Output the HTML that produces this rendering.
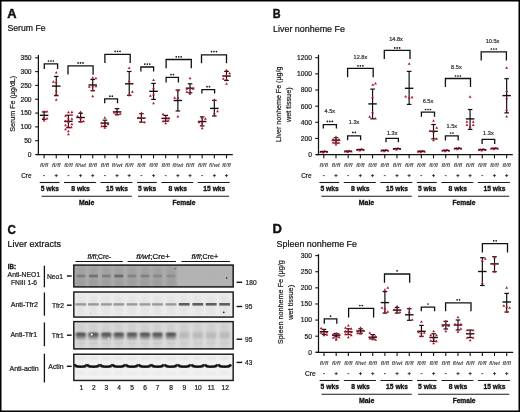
<!DOCTYPE html>
<html><head><meta charset="utf-8"><title>Figure</title>
<style>html,body{margin:0;padding:0;background:#fff;width:520px;height:412px;overflow:hidden}
svg text{font-family:"Liberation Sans",sans-serif}</style></head>
<body>
<svg width="520" height="412" viewBox="0 0 520 412" style="position:absolute;left:0;top:0;will-change:transform">
<g font-family='"Liberation Sans", sans-serif' fill="#111">
<rect x="0" y="0" width="520" height="412" fill="#fff"/>
<text x="7.30" y="17.90" font-size="12.6" stroke="#111" stroke-width="0.45" font-weight="bold" textLength="9.30" lengthAdjust="spacingAndGlyphs">A</text>
<text x="7.50" y="31.40" font-size="9.2" stroke="#111" stroke-width="0.22" textLength="38.00" lengthAdjust="spacingAndGlyphs">Serum Fe</text>
<line x1="38.40" y1="54.90" x2="38.40" y2="155.10" stroke="#111" stroke-width="1.25"/>
<line x1="35.20" y1="154.50" x2="38.40" y2="154.50" stroke="#111" stroke-width="1.1"/>
<text x="31.60" y="156.90" font-size="6.7" stroke="#222" stroke-width="0.22" text-anchor="end" fill="#222">0</text>
<line x1="35.20" y1="140.69" x2="38.40" y2="140.69" stroke="#111" stroke-width="1.1"/>
<text x="31.60" y="143.09" font-size="6.7" stroke="#222" stroke-width="0.22" text-anchor="end" fill="#222">50</text>
<line x1="35.20" y1="126.87" x2="38.40" y2="126.87" stroke="#111" stroke-width="1.1"/>
<text x="31.60" y="129.27" font-size="6.7" stroke="#222" stroke-width="0.22" text-anchor="end" fill="#222">100</text>
<line x1="35.20" y1="113.06" x2="38.40" y2="113.06" stroke="#111" stroke-width="1.1"/>
<text x="31.60" y="115.46" font-size="6.7" stroke="#222" stroke-width="0.22" text-anchor="end" fill="#222">150</text>
<line x1="35.20" y1="99.24" x2="38.40" y2="99.24" stroke="#111" stroke-width="1.1"/>
<text x="31.60" y="101.64" font-size="6.7" stroke="#222" stroke-width="0.22" text-anchor="end" fill="#222">200</text>
<line x1="35.20" y1="85.42" x2="38.40" y2="85.42" stroke="#111" stroke-width="1.1"/>
<text x="31.60" y="87.83" font-size="6.7" stroke="#222" stroke-width="0.22" text-anchor="end" fill="#222">250</text>
<line x1="35.20" y1="71.61" x2="38.40" y2="71.61" stroke="#111" stroke-width="1.1"/>
<text x="31.60" y="74.01" font-size="6.7" stroke="#222" stroke-width="0.22" text-anchor="end" fill="#222">300</text>
<line x1="35.20" y1="57.80" x2="38.40" y2="57.80" stroke="#111" stroke-width="1.1"/>
<text x="31.60" y="60.20" font-size="6.7" stroke="#222" stroke-width="0.22" text-anchor="end" fill="#222">350</text>
<line x1="36.00" y1="154.70" x2="232.80" y2="154.70" stroke="#111" stroke-width="1.3"/>
<line x1="44.10" y1="154.70" x2="44.10" y2="158.30" stroke="#111" stroke-width="1.1"/>
<line x1="56.26" y1="154.70" x2="56.26" y2="158.30" stroke="#111" stroke-width="1.1"/>
<line x1="68.42" y1="154.70" x2="68.42" y2="158.30" stroke="#111" stroke-width="1.1"/>
<line x1="80.58" y1="154.70" x2="80.58" y2="158.30" stroke="#111" stroke-width="1.1"/>
<line x1="92.74" y1="154.70" x2="92.74" y2="158.30" stroke="#111" stroke-width="1.1"/>
<line x1="104.90" y1="154.70" x2="104.90" y2="158.30" stroke="#111" stroke-width="1.1"/>
<line x1="117.06" y1="154.70" x2="117.06" y2="158.30" stroke="#111" stroke-width="1.1"/>
<line x1="129.22" y1="154.70" x2="129.22" y2="158.30" stroke="#111" stroke-width="1.1"/>
<line x1="141.38" y1="154.70" x2="141.38" y2="158.30" stroke="#111" stroke-width="1.1"/>
<line x1="153.54" y1="154.70" x2="153.54" y2="158.30" stroke="#111" stroke-width="1.1"/>
<line x1="165.70" y1="154.70" x2="165.70" y2="158.30" stroke="#111" stroke-width="1.1"/>
<line x1="177.86" y1="154.70" x2="177.86" y2="158.30" stroke="#111" stroke-width="1.1"/>
<line x1="190.02" y1="154.70" x2="190.02" y2="158.30" stroke="#111" stroke-width="1.1"/>
<line x1="202.18" y1="154.70" x2="202.18" y2="158.30" stroke="#111" stroke-width="1.1"/>
<line x1="214.34" y1="154.70" x2="214.34" y2="158.30" stroke="#111" stroke-width="1.1"/>
<line x1="226.50" y1="154.70" x2="226.50" y2="158.30" stroke="#111" stroke-width="1.1"/>
<text x="15.50" y="131.80" font-size="7.7" stroke="#222" stroke-width="0.22" fill="#222" textLength="56.00" lengthAdjust="spacingAndGlyphs" transform="rotate(-90 15.50 131.80)">Serum Fe (µg/dL)</text>
<text x="21.20" y="177.90" font-size="6.4" stroke="#222" stroke-width="0.22" fill="#222" textLength="10.30" lengthAdjust="spacingAndGlyphs">Cre</text>
<text x="44.10" y="166.50" font-size="4.8" stroke="#444" stroke-width="0.1" text-anchor="middle" font-style="italic" fill="#444" textLength="8.40" lengthAdjust="spacingAndGlyphs">fl/fl</text>
<line x1="43.20" y1="175.60" x2="45.00" y2="175.60" stroke="#222" stroke-width="0.8"/>
<text x="56.26" y="166.50" font-size="4.8" stroke="#444" stroke-width="0.1" text-anchor="middle" font-style="italic" fill="#444" textLength="8.40" lengthAdjust="spacingAndGlyphs">fl/fl</text>
<line x1="54.66" y1="175.60" x2="57.86" y2="175.60" stroke="#222" stroke-width="0.8"/>
<line x1="56.26" y1="174.00" x2="56.26" y2="177.20" stroke="#222" stroke-width="0.8"/>
<text x="68.42" y="166.50" font-size="4.8" stroke="#444" stroke-width="0.1" text-anchor="middle" font-style="italic" fill="#444" textLength="8.40" lengthAdjust="spacingAndGlyphs">fl/fl</text>
<line x1="67.52" y1="175.60" x2="69.32" y2="175.60" stroke="#222" stroke-width="0.8"/>
<text x="80.58" y="166.50" font-size="4.8" stroke="#444" stroke-width="0.1" text-anchor="middle" font-style="italic" fill="#444" textLength="10.60" lengthAdjust="spacingAndGlyphs">fl/wt</text>
<line x1="78.98" y1="175.60" x2="82.18" y2="175.60" stroke="#222" stroke-width="0.8"/>
<line x1="80.58" y1="174.00" x2="80.58" y2="177.20" stroke="#222" stroke-width="0.8"/>
<text x="92.74" y="166.50" font-size="4.8" stroke="#444" stroke-width="0.1" text-anchor="middle" font-style="italic" fill="#444" textLength="8.40" lengthAdjust="spacingAndGlyphs">fl/fl</text>
<line x1="91.14" y1="175.60" x2="94.34" y2="175.60" stroke="#222" stroke-width="0.8"/>
<line x1="92.74" y1="174.00" x2="92.74" y2="177.20" stroke="#222" stroke-width="0.8"/>
<text x="104.90" y="166.50" font-size="4.8" stroke="#444" stroke-width="0.1" text-anchor="middle" font-style="italic" fill="#444" textLength="8.40" lengthAdjust="spacingAndGlyphs">fl/fl</text>
<line x1="104.00" y1="175.60" x2="105.80" y2="175.60" stroke="#222" stroke-width="0.8"/>
<text x="117.06" y="166.50" font-size="4.8" stroke="#444" stroke-width="0.1" text-anchor="middle" font-style="italic" fill="#444" textLength="10.60" lengthAdjust="spacingAndGlyphs">fl/wt</text>
<line x1="115.46" y1="175.60" x2="118.66" y2="175.60" stroke="#222" stroke-width="0.8"/>
<line x1="117.06" y1="174.00" x2="117.06" y2="177.20" stroke="#222" stroke-width="0.8"/>
<text x="129.22" y="166.50" font-size="4.8" stroke="#444" stroke-width="0.1" text-anchor="middle" font-style="italic" fill="#444" textLength="8.40" lengthAdjust="spacingAndGlyphs">fl/fl</text>
<line x1="127.62" y1="175.60" x2="130.82" y2="175.60" stroke="#222" stroke-width="0.8"/>
<line x1="129.22" y1="174.00" x2="129.22" y2="177.20" stroke="#222" stroke-width="0.8"/>
<text x="141.38" y="166.50" font-size="4.8" stroke="#444" stroke-width="0.1" text-anchor="middle" font-style="italic" fill="#444" textLength="8.40" lengthAdjust="spacingAndGlyphs">fl/fl</text>
<line x1="140.48" y1="175.60" x2="142.28" y2="175.60" stroke="#222" stroke-width="0.8"/>
<text x="153.54" y="166.50" font-size="4.8" stroke="#444" stroke-width="0.1" text-anchor="middle" font-style="italic" fill="#444" textLength="8.40" lengthAdjust="spacingAndGlyphs">fl/fl</text>
<line x1="151.94" y1="175.60" x2="155.14" y2="175.60" stroke="#222" stroke-width="0.8"/>
<line x1="153.54" y1="174.00" x2="153.54" y2="177.20" stroke="#222" stroke-width="0.8"/>
<text x="165.70" y="166.50" font-size="4.8" stroke="#444" stroke-width="0.1" text-anchor="middle" font-style="italic" fill="#444" textLength="8.40" lengthAdjust="spacingAndGlyphs">fl/fl</text>
<line x1="164.80" y1="175.60" x2="166.60" y2="175.60" stroke="#222" stroke-width="0.8"/>
<text x="177.86" y="166.50" font-size="4.8" stroke="#444" stroke-width="0.1" text-anchor="middle" font-style="italic" fill="#444" textLength="10.60" lengthAdjust="spacingAndGlyphs">fl/wt</text>
<line x1="176.26" y1="175.60" x2="179.46" y2="175.60" stroke="#222" stroke-width="0.8"/>
<line x1="177.86" y1="174.00" x2="177.86" y2="177.20" stroke="#222" stroke-width="0.8"/>
<text x="190.02" y="166.50" font-size="4.8" stroke="#444" stroke-width="0.1" text-anchor="middle" font-style="italic" fill="#444" textLength="8.40" lengthAdjust="spacingAndGlyphs">fl/fl</text>
<line x1="188.42" y1="175.60" x2="191.62" y2="175.60" stroke="#222" stroke-width="0.8"/>
<line x1="190.02" y1="174.00" x2="190.02" y2="177.20" stroke="#222" stroke-width="0.8"/>
<text x="202.18" y="166.50" font-size="4.8" stroke="#444" stroke-width="0.1" text-anchor="middle" font-style="italic" fill="#444" textLength="8.40" lengthAdjust="spacingAndGlyphs">fl/fl</text>
<line x1="201.28" y1="175.60" x2="203.08" y2="175.60" stroke="#222" stroke-width="0.8"/>
<text x="214.34" y="166.50" font-size="4.8" stroke="#444" stroke-width="0.1" text-anchor="middle" font-style="italic" fill="#444" textLength="10.60" lengthAdjust="spacingAndGlyphs">fl/wt</text>
<line x1="212.74" y1="175.60" x2="215.94" y2="175.60" stroke="#222" stroke-width="0.8"/>
<line x1="214.34" y1="174.00" x2="214.34" y2="177.20" stroke="#222" stroke-width="0.8"/>
<text x="226.50" y="166.50" font-size="4.8" stroke="#444" stroke-width="0.1" text-anchor="middle" font-style="italic" fill="#444" textLength="8.40" lengthAdjust="spacingAndGlyphs">fl/fl</text>
<line x1="224.90" y1="175.60" x2="228.10" y2="175.60" stroke="#222" stroke-width="0.8"/>
<line x1="226.50" y1="174.00" x2="226.50" y2="177.20" stroke="#222" stroke-width="0.8"/>
<line x1="39.70" y1="182.50" x2="59.46" y2="182.50" stroke="#1a1a1a" stroke-width="1.1"/>
<text x="49.88" y="191.40" font-size="6.6" stroke="#111" stroke-width="0.3" text-anchor="middle" font-weight="bold" textLength="18.30" lengthAdjust="spacingAndGlyphs">5 wks</text>
<line x1="64.02" y1="182.50" x2="95.94" y2="182.50" stroke="#1a1a1a" stroke-width="1.1"/>
<text x="80.58" y="191.40" font-size="6.6" stroke="#111" stroke-width="0.3" text-anchor="middle" font-weight="bold" textLength="18.60" lengthAdjust="spacingAndGlyphs">8 wks</text>
<line x1="100.50" y1="182.50" x2="132.42" y2="182.50" stroke="#1a1a1a" stroke-width="1.1"/>
<text x="117.06" y="191.40" font-size="6.6" stroke="#111" stroke-width="0.3" text-anchor="middle" font-weight="bold" textLength="21.90" lengthAdjust="spacingAndGlyphs">15 wks</text>
<line x1="136.98" y1="182.50" x2="156.74" y2="182.50" stroke="#1a1a1a" stroke-width="1.1"/>
<text x="147.16" y="191.40" font-size="6.6" stroke="#111" stroke-width="0.3" text-anchor="middle" font-weight="bold" textLength="18.30" lengthAdjust="spacingAndGlyphs">5 wks</text>
<line x1="161.30" y1="182.50" x2="193.22" y2="182.50" stroke="#1a1a1a" stroke-width="1.1"/>
<text x="177.86" y="191.40" font-size="6.6" stroke="#111" stroke-width="0.3" text-anchor="middle" font-weight="bold" textLength="18.60" lengthAdjust="spacingAndGlyphs">8 wks</text>
<line x1="197.78" y1="182.50" x2="229.70" y2="182.50" stroke="#1a1a1a" stroke-width="1.1"/>
<text x="214.34" y="191.40" font-size="6.6" stroke="#111" stroke-width="0.3" text-anchor="middle" font-weight="bold" textLength="21.90" lengthAdjust="spacingAndGlyphs">15 wks</text>
<line x1="41.60" y1="196.30" x2="131.82" y2="196.30" stroke="#1a1a1a" stroke-width="1.1"/>
<line x1="137.98" y1="196.30" x2="229.10" y2="196.30" stroke="#1a1a1a" stroke-width="1.1"/>
<text x="86.66" y="205.10" font-size="6.5" stroke="#111" stroke-width="0.3" text-anchor="middle" font-weight="bold" textLength="15.40" lengthAdjust="spacingAndGlyphs">Male</text>
<text x="183.94" y="205.10" font-size="6.5" stroke="#111" stroke-width="0.3" text-anchor="middle" font-weight="bold" textLength="22.80" lengthAdjust="spacingAndGlyphs">Female</text>
<line x1="44.10" y1="111.90" x2="44.10" y2="119.30" stroke="#111" stroke-width="1.2"/>
<line x1="41.80" y1="111.90" x2="46.40" y2="111.90" stroke="#111" stroke-width="1.2"/>
<line x1="41.80" y1="119.30" x2="46.40" y2="119.30" stroke="#111" stroke-width="1.2"/>
<line x1="39.85" y1="115.30" x2="48.35" y2="115.30" stroke="#111" stroke-width="1.4"/>
<path d="M42.65 112.53L44.10 110.07L45.55 112.53Z" fill="#bd0f2c"/>
<path d="M45.55 112.53L47.00 110.07L48.45 112.53Z" fill="#bd0f2c"/>
<path d="M42.07 119.03L43.52 116.57L44.97 119.03Z" fill="#bd0f2c"/>
<path d="M45.55 119.53L47.00 117.07L48.45 119.53Z" fill="#bd0f2c"/>
<path d="M42.65 121.53L44.10 119.07L45.55 121.53Z" fill="#bd0f2c"/>
<line x1="56.26" y1="76.40" x2="56.26" y2="95.70" stroke="#111" stroke-width="1.2"/>
<line x1="53.96" y1="76.40" x2="58.56" y2="76.40" stroke="#111" stroke-width="1.2"/>
<line x1="53.96" y1="95.70" x2="58.56" y2="95.70" stroke="#111" stroke-width="1.2"/>
<line x1="52.01" y1="86.10" x2="60.51" y2="86.10" stroke="#111" stroke-width="1.4"/>
<path d="M54.81 73.53L56.26 71.07L57.71 73.53Z" fill="#bd0f2c"/>
<path d="M51.91 82.73L53.36 80.27L54.81 82.73Z" fill="#bd0f2c"/>
<path d="M54.81 83.23L56.26 80.77L57.71 83.23Z" fill="#bd0f2c"/>
<path d="M54.81 91.73L56.26 89.27L57.71 91.73Z" fill="#bd0f2c"/>
<path d="M54.81 94.73L56.26 92.27L57.71 94.73Z" fill="#bd0f2c"/>
<path d="M54.81 100.73L56.26 98.27L57.71 100.73Z" fill="#bd0f2c"/>
<line x1="68.42" y1="115.20" x2="68.42" y2="127.70" stroke="#111" stroke-width="1.2"/>
<line x1="66.12" y1="115.20" x2="70.72" y2="115.20" stroke="#111" stroke-width="1.2"/>
<line x1="66.12" y1="127.70" x2="70.72" y2="127.70" stroke="#111" stroke-width="1.2"/>
<line x1="64.17" y1="121.30" x2="72.67" y2="121.30" stroke="#111" stroke-width="1.4"/>
<path d="M66.97 113.33L68.42 110.87L69.87 113.33Z" fill="#bd0f2c"/>
<path d="M70.45 113.03L71.90 110.57L73.35 113.03Z" fill="#bd0f2c"/>
<path d="M70.45 115.73L71.90 113.27L73.35 115.73Z" fill="#bd0f2c"/>
<path d="M64.07 116.73L65.52 114.27L66.97 116.73Z" fill="#bd0f2c"/>
<path d="M66.97 119.23L68.42 116.77L69.87 119.23Z" fill="#bd0f2c"/>
<path d="M70.45 119.73L71.90 117.27L73.35 119.73Z" fill="#bd0f2c"/>
<path d="M64.07 122.23L65.52 119.77L66.97 122.23Z" fill="#bd0f2c"/>
<path d="M66.97 122.73L68.42 120.27L69.87 122.73Z" fill="#bd0f2c"/>
<path d="M70.45 125.23L71.90 122.77L73.35 125.23Z" fill="#bd0f2c"/>
<path d="M64.07 126.23L65.52 123.77L66.97 126.23Z" fill="#bd0f2c"/>
<path d="M66.97 127.23L68.42 124.77L69.87 127.23Z" fill="#bd0f2c"/>
<path d="M69.87 128.23L71.32 125.77L72.77 128.23Z" fill="#bd0f2c"/>
<path d="M64.07 130.23L65.52 127.77L66.97 130.23Z" fill="#bd0f2c"/>
<path d="M66.97 132.23L68.42 129.77L69.87 132.23Z" fill="#bd0f2c"/>
<path d="M66.97 135.23L68.42 132.77L69.87 135.23Z" fill="#bd0f2c"/>
<line x1="80.58" y1="113.30" x2="80.58" y2="121.70" stroke="#111" stroke-width="1.2"/>
<line x1="78.28" y1="113.30" x2="82.88" y2="113.30" stroke="#111" stroke-width="1.2"/>
<line x1="78.28" y1="121.70" x2="82.88" y2="121.70" stroke="#111" stroke-width="1.2"/>
<line x1="76.33" y1="117.50" x2="84.83" y2="117.50" stroke="#111" stroke-width="1.4"/>
<path d="M79.13 113.03L80.58 110.57L82.03 113.03Z" fill="#bd0f2c"/>
<path d="M76.23 117.23L77.68 114.77L79.13 117.23Z" fill="#bd0f2c"/>
<path d="M79.13 119.23L80.58 116.77L82.03 119.23Z" fill="#bd0f2c"/>
<path d="M79.13 122.73L80.58 120.27L82.03 122.73Z" fill="#bd0f2c"/>
<path d="M82.03 122.23L83.48 119.77L84.93 122.23Z" fill="#bd0f2c"/>
<line x1="92.74" y1="79.50" x2="92.74" y2="90.70" stroke="#111" stroke-width="1.2"/>
<line x1="90.44" y1="79.50" x2="95.04" y2="79.50" stroke="#111" stroke-width="1.2"/>
<line x1="90.44" y1="90.70" x2="95.04" y2="90.70" stroke="#111" stroke-width="1.2"/>
<line x1="88.49" y1="85.00" x2="96.99" y2="85.00" stroke="#111" stroke-width="1.4"/>
<path d="M91.29 78.73L92.74 76.27L94.19 78.73Z" fill="#bd0f2c"/>
<path d="M94.48 79.23L95.93 76.77L97.38 79.23Z" fill="#bd0f2c"/>
<path d="M87.81 87.73L89.26 85.27L90.71 87.73Z" fill="#bd0f2c"/>
<path d="M91.29 87.23L92.74 84.77L94.19 87.23Z" fill="#bd0f2c"/>
<path d="M94.48 87.23L95.93 84.77L97.38 87.23Z" fill="#bd0f2c"/>
<path d="M91.29 91.23L92.74 88.77L94.19 91.23Z" fill="#bd0f2c"/>
<path d="M91.29 97.23L92.74 94.77L94.19 97.23Z" fill="#bd0f2c"/>
<line x1="104.90" y1="120.20" x2="104.90" y2="126.50" stroke="#111" stroke-width="1.2"/>
<line x1="102.60" y1="120.20" x2="107.20" y2="120.20" stroke="#111" stroke-width="1.2"/>
<line x1="102.60" y1="126.50" x2="107.20" y2="126.50" stroke="#111" stroke-width="1.2"/>
<line x1="100.65" y1="123.10" x2="109.15" y2="123.10" stroke="#111" stroke-width="1.4"/>
<path d="M103.45 118.73L104.90 116.27L106.35 118.73Z" fill="#bd0f2c"/>
<path d="M100.26 124.23L101.71 121.77L103.16 124.23Z" fill="#bd0f2c"/>
<path d="M103.45 125.73L104.90 123.27L106.35 125.73Z" fill="#bd0f2c"/>
<path d="M106.64 125.23L108.09 122.77L109.54 125.23Z" fill="#bd0f2c"/>
<path d="M100.26 127.23L101.71 124.77L103.16 127.23Z" fill="#bd0f2c"/>
<path d="M103.45 128.73L104.90 126.27L106.35 128.73Z" fill="#bd0f2c"/>
<line x1="117.06" y1="108.60" x2="117.06" y2="114.80" stroke="#111" stroke-width="1.2"/>
<line x1="114.76" y1="108.60" x2="119.36" y2="108.60" stroke="#111" stroke-width="1.2"/>
<line x1="114.76" y1="114.80" x2="119.36" y2="114.80" stroke="#111" stroke-width="1.2"/>
<line x1="112.81" y1="111.90" x2="121.31" y2="111.90" stroke="#111" stroke-width="1.4"/>
<path d="M115.61 109.83L117.06 107.37L118.51 109.83Z" fill="#bd0f2c"/>
<path d="M118.80 114.73L120.25 112.27L121.70 114.73Z" fill="#bd0f2c"/>
<path d="M115.61 115.23L117.06 112.77L118.51 115.23Z" fill="#bd0f2c"/>
<path d="M113.00 113.43L114.45 110.97L115.90 113.43Z" fill="#bd0f2c"/>
<line x1="129.22" y1="71.50" x2="129.22" y2="95.30" stroke="#111" stroke-width="1.2"/>
<line x1="126.92" y1="71.50" x2="131.52" y2="71.50" stroke="#111" stroke-width="1.2"/>
<line x1="126.92" y1="95.30" x2="131.52" y2="95.30" stroke="#111" stroke-width="1.2"/>
<line x1="124.97" y1="83.80" x2="133.47" y2="83.80" stroke="#111" stroke-width="1.4"/>
<path d="M127.77 69.03L129.22 66.57L130.67 69.03Z" fill="#bd0f2c"/>
<path d="M127.77 82.23L129.22 79.77L130.67 82.23Z" fill="#bd0f2c"/>
<path d="M130.96 92.73L132.41 90.27L133.86 92.73Z" fill="#bd0f2c"/>
<path d="M127.77 96.23L129.22 93.77L130.67 96.23Z" fill="#bd0f2c"/>
<line x1="141.38" y1="113.70" x2="141.38" y2="122.10" stroke="#111" stroke-width="1.2"/>
<line x1="139.08" y1="113.70" x2="143.68" y2="113.70" stroke="#111" stroke-width="1.2"/>
<line x1="139.08" y1="122.10" x2="143.68" y2="122.10" stroke="#111" stroke-width="1.2"/>
<line x1="137.13" y1="118.10" x2="145.63" y2="118.10" stroke="#111" stroke-width="1.4"/>
<path d="M139.93 114.03L141.38 111.57L142.83 114.03Z" fill="#bd0f2c"/>
<path d="M136.74 118.73L138.19 116.27L139.64 118.73Z" fill="#bd0f2c"/>
<path d="M139.93 118.23L141.38 115.77L142.83 118.23Z" fill="#bd0f2c"/>
<path d="M139.93 122.73L141.38 120.27L142.83 122.73Z" fill="#bd0f2c"/>
<path d="M143.12 123.23L144.57 120.77L146.02 123.23Z" fill="#bd0f2c"/>
<line x1="153.54" y1="83.40" x2="153.54" y2="99.40" stroke="#111" stroke-width="1.2"/>
<line x1="151.24" y1="83.40" x2="155.84" y2="83.40" stroke="#111" stroke-width="1.2"/>
<line x1="151.24" y1="99.40" x2="155.84" y2="99.40" stroke="#111" stroke-width="1.2"/>
<line x1="149.29" y1="91.30" x2="157.79" y2="91.30" stroke="#111" stroke-width="1.4"/>
<path d="M152.09 81.03L153.54 78.57L154.99 81.03Z" fill="#bd0f2c"/>
<path d="M152.09 89.23L153.54 86.77L154.99 89.23Z" fill="#bd0f2c"/>
<path d="M148.90 96.73L150.35 94.27L151.80 96.73Z" fill="#bd0f2c"/>
<path d="M152.09 95.53L153.54 93.07L154.99 95.53Z" fill="#bd0f2c"/>
<path d="M152.09 104.23L153.54 101.77L154.99 104.23Z" fill="#bd0f2c"/>
<line x1="165.70" y1="115.40" x2="165.70" y2="121.20" stroke="#111" stroke-width="1.2"/>
<line x1="163.40" y1="115.40" x2="168.00" y2="115.40" stroke="#111" stroke-width="1.2"/>
<line x1="163.40" y1="121.20" x2="168.00" y2="121.20" stroke="#111" stroke-width="1.2"/>
<line x1="161.45" y1="118.40" x2="169.95" y2="118.40" stroke="#111" stroke-width="1.4"/>
<path d="M161.64 115.23L163.09 112.77L164.54 115.23Z" fill="#bd0f2c"/>
<path d="M164.25 118.23L165.70 115.77L167.15 118.23Z" fill="#bd0f2c"/>
<path d="M166.86 119.23L168.31 116.77L169.76 119.23Z" fill="#bd0f2c"/>
<path d="M161.64 122.23L163.09 119.77L164.54 122.23Z" fill="#bd0f2c"/>
<path d="M166.86 121.73L168.31 119.27L169.76 121.73Z" fill="#bd0f2c"/>
<path d="M164.25 124.23L165.70 121.77L167.15 124.23Z" fill="#bd0f2c"/>
<line x1="177.86" y1="90.00" x2="177.86" y2="111.00" stroke="#111" stroke-width="1.2"/>
<line x1="175.56" y1="90.00" x2="180.16" y2="90.00" stroke="#111" stroke-width="1.2"/>
<line x1="175.56" y1="111.00" x2="180.16" y2="111.00" stroke="#111" stroke-width="1.2"/>
<line x1="173.61" y1="100.50" x2="182.11" y2="100.50" stroke="#111" stroke-width="1.4"/>
<path d="M176.41 91.73L177.86 89.27L179.31 91.73Z" fill="#bd0f2c"/>
<path d="M173.22 98.73L174.67 96.27L176.12 98.73Z" fill="#bd0f2c"/>
<path d="M176.41 98.73L177.86 96.27L179.31 98.73Z" fill="#bd0f2c"/>
<path d="M176.41 117.43L177.86 114.97L179.31 117.43Z" fill="#bd0f2c"/>
<line x1="190.02" y1="83.80" x2="190.02" y2="92.80" stroke="#111" stroke-width="1.2"/>
<line x1="187.72" y1="83.80" x2="192.32" y2="83.80" stroke="#111" stroke-width="1.2"/>
<line x1="187.72" y1="92.80" x2="192.32" y2="92.80" stroke="#111" stroke-width="1.2"/>
<line x1="185.77" y1="88.20" x2="194.27" y2="88.20" stroke="#111" stroke-width="1.4"/>
<path d="M188.57 79.23L190.02 76.77L191.47 79.23Z" fill="#bd0f2c"/>
<path d="M185.38 89.73L186.83 87.27L188.28 89.73Z" fill="#bd0f2c"/>
<path d="M188.57 89.23L190.02 86.77L191.47 89.23Z" fill="#bd0f2c"/>
<path d="M191.76 89.73L193.21 87.27L194.66 89.73Z" fill="#bd0f2c"/>
<path d="M185.38 92.73L186.83 90.27L188.28 92.73Z" fill="#bd0f2c"/>
<path d="M188.57 94.73L190.02 92.27L191.47 94.73Z" fill="#bd0f2c"/>
<line x1="202.18" y1="116.90" x2="202.18" y2="125.90" stroke="#111" stroke-width="1.2"/>
<line x1="199.88" y1="116.90" x2="204.48" y2="116.90" stroke="#111" stroke-width="1.2"/>
<line x1="199.88" y1="125.90" x2="204.48" y2="125.90" stroke="#111" stroke-width="1.2"/>
<line x1="197.93" y1="121.50" x2="206.43" y2="121.50" stroke="#111" stroke-width="1.4"/>
<path d="M200.73 118.73L202.18 116.27L203.63 118.73Z" fill="#bd0f2c"/>
<path d="M203.92 119.73L205.37 117.27L206.82 119.73Z" fill="#bd0f2c"/>
<path d="M200.73 123.23L202.18 120.77L203.63 123.23Z" fill="#bd0f2c"/>
<path d="M197.54 123.23L198.99 120.77L200.44 123.23Z" fill="#bd0f2c"/>
<path d="M200.73 126.23L202.18 123.77L203.63 126.23Z" fill="#bd0f2c"/>
<path d="M200.73 129.23L202.18 126.77L203.63 129.23Z" fill="#bd0f2c"/>
<line x1="214.34" y1="100.40" x2="214.34" y2="116.00" stroke="#111" stroke-width="1.2"/>
<line x1="212.04" y1="100.40" x2="216.64" y2="100.40" stroke="#111" stroke-width="1.2"/>
<line x1="212.04" y1="116.00" x2="216.64" y2="116.00" stroke="#111" stroke-width="1.2"/>
<line x1="210.09" y1="108.40" x2="218.59" y2="108.40" stroke="#111" stroke-width="1.4"/>
<path d="M212.89 100.73L214.34 98.27L215.79 100.73Z" fill="#bd0f2c"/>
<path d="M216.08 112.23L217.53 109.77L218.98 112.23Z" fill="#bd0f2c"/>
<path d="M212.89 114.23L214.34 111.77L215.79 114.23Z" fill="#bd0f2c"/>
<line x1="226.50" y1="71.40" x2="226.50" y2="80.50" stroke="#111" stroke-width="1.2"/>
<line x1="224.20" y1="71.40" x2="228.80" y2="71.40" stroke="#111" stroke-width="1.2"/>
<line x1="224.20" y1="80.50" x2="228.80" y2="80.50" stroke="#111" stroke-width="1.2"/>
<line x1="222.25" y1="76.00" x2="230.75" y2="76.00" stroke="#111" stroke-width="1.4"/>
<path d="M225.05 71.23L226.50 68.77L227.95 71.23Z" fill="#bd0f2c"/>
<path d="M228.24 74.23L229.69 71.77L231.14 74.23Z" fill="#bd0f2c"/>
<path d="M225.05 76.23L226.50 73.77L227.95 76.23Z" fill="#bd0f2c"/>
<path d="M221.86 79.73L223.31 77.27L224.76 79.73Z" fill="#bd0f2c"/>
<path d="M225.05 80.23L226.50 77.77L227.95 80.23Z" fill="#bd0f2c"/>
<path d="M225.05 84.73L226.50 82.27L227.95 84.73Z" fill="#bd0f2c"/>
<path d="M44.30 69.00V63.90H57.60V69.00" fill="none" stroke="#111" stroke-width="1.3"/>
<circle cx="48.50" cy="61.00" r="0.85" fill="#111"/>
<circle cx="50.95" cy="61.00" r="0.85" fill="#111"/>
<circle cx="53.40" cy="61.00" r="0.85" fill="#111"/>
<path d="M68.00 74.60V65.90H93.10V74.80" fill="none" stroke="#111" stroke-width="1.3"/>
<circle cx="78.10" cy="62.90" r="0.85" fill="#111"/>
<circle cx="80.55" cy="62.90" r="0.85" fill="#111"/>
<circle cx="83.00" cy="62.90" r="0.85" fill="#111"/>
<path d="M104.90 63.00V54.30H130.20V63.00" fill="none" stroke="#111" stroke-width="1.3"/>
<circle cx="115.10" cy="51.30" r="0.85" fill="#111"/>
<circle cx="117.55" cy="51.30" r="0.85" fill="#111"/>
<circle cx="120.00" cy="51.30" r="0.85" fill="#111"/>
<path d="M104.70 103.20V98.80H117.50V103.20" fill="none" stroke="#111" stroke-width="1.3"/>
<circle cx="109.88" cy="96.20" r="0.85" fill="#111"/>
<circle cx="112.32" cy="96.20" r="0.85" fill="#111"/>
<path d="M140.90 71.60V67.00H153.60V71.60" fill="none" stroke="#111" stroke-width="1.3"/>
<circle cx="144.80" cy="64.10" r="0.85" fill="#111"/>
<circle cx="147.25" cy="64.10" r="0.85" fill="#111"/>
<circle cx="149.70" cy="64.10" r="0.85" fill="#111"/>
<path d="M166.10 68.20V59.50H191.30V68.20" fill="none" stroke="#111" stroke-width="1.3"/>
<circle cx="176.25" cy="56.80" r="0.85" fill="#111"/>
<circle cx="178.70" cy="56.80" r="0.85" fill="#111"/>
<circle cx="181.15" cy="56.80" r="0.85" fill="#111"/>
<path d="M166.10 82.40V77.30H178.40V82.40" fill="none" stroke="#111" stroke-width="1.3"/>
<circle cx="171.03" cy="74.60" r="0.85" fill="#111"/>
<circle cx="173.47" cy="74.60" r="0.85" fill="#111"/>
<path d="M201.50 63.20V54.80H226.50V63.20" fill="none" stroke="#111" stroke-width="1.3"/>
<circle cx="211.55" cy="51.60" r="0.85" fill="#111"/>
<circle cx="214.00" cy="51.60" r="0.85" fill="#111"/>
<circle cx="216.45" cy="51.60" r="0.85" fill="#111"/>
<path d="M201.90 93.60V89.70H214.60V93.60" fill="none" stroke="#111" stroke-width="1.3"/>
<circle cx="207.03" cy="86.70" r="0.85" fill="#111"/>
<circle cx="209.47" cy="86.70" r="0.85" fill="#111"/>
<text x="272.80" y="17.60" font-size="12.6" stroke="#111" stroke-width="0.4" font-weight="bold" textLength="7.90" lengthAdjust="spacingAndGlyphs">B</text>
<text x="273.00" y="31.60" font-size="9.2" stroke="#111" stroke-width="0.22" textLength="72.00" lengthAdjust="spacingAndGlyphs">Liver nonheme Fe</text>
<line x1="318.50" y1="54.70" x2="318.50" y2="155.20" stroke="#111" stroke-width="1.25"/>
<line x1="315.30" y1="154.60" x2="318.50" y2="154.60" stroke="#111" stroke-width="1.1"/>
<text x="312.00" y="157.00" font-size="6.7" stroke="#222" stroke-width="0.22" text-anchor="end" fill="#222">0</text>
<line x1="315.30" y1="138.45" x2="318.50" y2="138.45" stroke="#111" stroke-width="1.1"/>
<text x="312.00" y="140.85" font-size="6.7" stroke="#222" stroke-width="0.22" text-anchor="end" fill="#222">200</text>
<line x1="315.30" y1="122.30" x2="318.50" y2="122.30" stroke="#111" stroke-width="1.1"/>
<text x="312.00" y="124.70" font-size="6.7" stroke="#222" stroke-width="0.22" text-anchor="end" fill="#222">400</text>
<line x1="315.30" y1="106.15" x2="318.50" y2="106.15" stroke="#111" stroke-width="1.1"/>
<text x="312.00" y="108.55" font-size="6.7" stroke="#222" stroke-width="0.22" text-anchor="end" fill="#222">600</text>
<line x1="315.30" y1="90.00" x2="318.50" y2="90.00" stroke="#111" stroke-width="1.1"/>
<text x="312.00" y="92.40" font-size="6.7" stroke="#222" stroke-width="0.22" text-anchor="end" fill="#222">800</text>
<line x1="315.30" y1="73.85" x2="318.50" y2="73.85" stroke="#111" stroke-width="1.1"/>
<text x="312.00" y="76.25" font-size="6.7" stroke="#222" stroke-width="0.22" text-anchor="end" fill="#222">1000</text>
<line x1="315.30" y1="57.70" x2="318.50" y2="57.70" stroke="#111" stroke-width="1.1"/>
<text x="312.00" y="60.10" font-size="6.7" stroke="#222" stroke-width="0.22" text-anchor="end" fill="#222">1200</text>
<line x1="316.00" y1="154.70" x2="512.80" y2="154.70" stroke="#111" stroke-width="1.3"/>
<line x1="323.80" y1="154.70" x2="323.80" y2="158.30" stroke="#111" stroke-width="1.1"/>
<line x1="335.99" y1="154.70" x2="335.99" y2="158.30" stroke="#111" stroke-width="1.1"/>
<line x1="348.18" y1="154.70" x2="348.18" y2="158.30" stroke="#111" stroke-width="1.1"/>
<line x1="360.37" y1="154.70" x2="360.37" y2="158.30" stroke="#111" stroke-width="1.1"/>
<line x1="372.56" y1="154.70" x2="372.56" y2="158.30" stroke="#111" stroke-width="1.1"/>
<line x1="384.75" y1="154.70" x2="384.75" y2="158.30" stroke="#111" stroke-width="1.1"/>
<line x1="396.94" y1="154.70" x2="396.94" y2="158.30" stroke="#111" stroke-width="1.1"/>
<line x1="409.13" y1="154.70" x2="409.13" y2="158.30" stroke="#111" stroke-width="1.1"/>
<line x1="421.32" y1="154.70" x2="421.32" y2="158.30" stroke="#111" stroke-width="1.1"/>
<line x1="433.51" y1="154.70" x2="433.51" y2="158.30" stroke="#111" stroke-width="1.1"/>
<line x1="445.70" y1="154.70" x2="445.70" y2="158.30" stroke="#111" stroke-width="1.1"/>
<line x1="457.89" y1="154.70" x2="457.89" y2="158.30" stroke="#111" stroke-width="1.1"/>
<line x1="470.08" y1="154.70" x2="470.08" y2="158.30" stroke="#111" stroke-width="1.1"/>
<line x1="482.27" y1="154.70" x2="482.27" y2="158.30" stroke="#111" stroke-width="1.1"/>
<line x1="494.46" y1="154.70" x2="494.46" y2="158.30" stroke="#111" stroke-width="1.1"/>
<line x1="506.65" y1="154.70" x2="506.65" y2="158.30" stroke="#111" stroke-width="1.1"/>
<text x="281.20" y="142.00" font-size="7.7" stroke="#222" stroke-width="0.22" fill="#222" textLength="75.40" lengthAdjust="spacingAndGlyphs" transform="rotate(-90 281.20 142.00)">Liver nonheme Fe (µg/g</text>
<text x="290.90" y="122.00" font-size="7.7" stroke="#222" stroke-width="0.22" fill="#222" textLength="34.60" lengthAdjust="spacingAndGlyphs" transform="rotate(-90 290.90 122.00)">wet tissue)</text>
<text x="301.20" y="177.60" font-size="6.4" stroke="#222" stroke-width="0.22" fill="#222" textLength="10.40" lengthAdjust="spacingAndGlyphs">Cre</text>
<text x="323.80" y="166.50" font-size="4.8" stroke="#444" stroke-width="0.1" text-anchor="middle" font-style="italic" fill="#444" textLength="8.40" lengthAdjust="spacingAndGlyphs">fl/fl</text>
<line x1="322.90" y1="175.60" x2="324.70" y2="175.60" stroke="#222" stroke-width="0.8"/>
<text x="335.99" y="166.50" font-size="4.8" stroke="#444" stroke-width="0.1" text-anchor="middle" font-style="italic" fill="#444" textLength="8.40" lengthAdjust="spacingAndGlyphs">fl/fl</text>
<line x1="334.39" y1="175.60" x2="337.59" y2="175.60" stroke="#222" stroke-width="0.8"/>
<line x1="335.99" y1="174.00" x2="335.99" y2="177.20" stroke="#222" stroke-width="0.8"/>
<text x="348.18" y="166.50" font-size="4.8" stroke="#444" stroke-width="0.1" text-anchor="middle" font-style="italic" fill="#444" textLength="8.40" lengthAdjust="spacingAndGlyphs">fl/fl</text>
<line x1="347.28" y1="175.60" x2="349.08" y2="175.60" stroke="#222" stroke-width="0.8"/>
<text x="360.37" y="166.50" font-size="4.8" stroke="#444" stroke-width="0.1" text-anchor="middle" font-style="italic" fill="#444" textLength="8.40" lengthAdjust="spacingAndGlyphs">fl/fl</text>
<line x1="358.77" y1="175.60" x2="361.97" y2="175.60" stroke="#222" stroke-width="0.8"/>
<line x1="360.37" y1="174.00" x2="360.37" y2="177.20" stroke="#222" stroke-width="0.8"/>
<text x="372.56" y="166.50" font-size="4.8" stroke="#444" stroke-width="0.1" text-anchor="middle" font-style="italic" fill="#444" textLength="8.40" lengthAdjust="spacingAndGlyphs">fl/fl</text>
<line x1="370.96" y1="175.60" x2="374.16" y2="175.60" stroke="#222" stroke-width="0.8"/>
<line x1="372.56" y1="174.00" x2="372.56" y2="177.20" stroke="#222" stroke-width="0.8"/>
<text x="384.75" y="166.50" font-size="4.8" stroke="#444" stroke-width="0.1" text-anchor="middle" font-style="italic" fill="#444" textLength="8.40" lengthAdjust="spacingAndGlyphs">fl/fl</text>
<line x1="383.85" y1="175.60" x2="385.65" y2="175.60" stroke="#222" stroke-width="0.8"/>
<text x="396.94" y="166.50" font-size="4.8" stroke="#444" stroke-width="0.1" text-anchor="middle" font-style="italic" fill="#444" textLength="8.40" lengthAdjust="spacingAndGlyphs">fl/fl</text>
<line x1="395.34" y1="175.60" x2="398.54" y2="175.60" stroke="#222" stroke-width="0.8"/>
<line x1="396.94" y1="174.00" x2="396.94" y2="177.20" stroke="#222" stroke-width="0.8"/>
<text x="409.13" y="166.50" font-size="4.8" stroke="#444" stroke-width="0.1" text-anchor="middle" font-style="italic" fill="#444" textLength="8.40" lengthAdjust="spacingAndGlyphs">fl/fl</text>
<line x1="407.53" y1="175.60" x2="410.73" y2="175.60" stroke="#222" stroke-width="0.8"/>
<line x1="409.13" y1="174.00" x2="409.13" y2="177.20" stroke="#222" stroke-width="0.8"/>
<text x="421.32" y="166.50" font-size="4.8" stroke="#444" stroke-width="0.1" text-anchor="middle" font-style="italic" fill="#444" textLength="8.40" lengthAdjust="spacingAndGlyphs">fl/fl</text>
<line x1="420.42" y1="175.60" x2="422.22" y2="175.60" stroke="#222" stroke-width="0.8"/>
<text x="433.51" y="166.50" font-size="4.8" stroke="#444" stroke-width="0.1" text-anchor="middle" font-style="italic" fill="#444" textLength="8.40" lengthAdjust="spacingAndGlyphs">fl/fl</text>
<line x1="431.91" y1="175.60" x2="435.11" y2="175.60" stroke="#222" stroke-width="0.8"/>
<line x1="433.51" y1="174.00" x2="433.51" y2="177.20" stroke="#222" stroke-width="0.8"/>
<text x="445.70" y="166.50" font-size="4.8" stroke="#444" stroke-width="0.1" text-anchor="middle" font-style="italic" fill="#444" textLength="8.40" lengthAdjust="spacingAndGlyphs">fl/fl</text>
<line x1="444.80" y1="175.60" x2="446.60" y2="175.60" stroke="#222" stroke-width="0.8"/>
<text x="457.89" y="166.50" font-size="4.8" stroke="#444" stroke-width="0.1" text-anchor="middle" font-style="italic" fill="#444" textLength="8.40" lengthAdjust="spacingAndGlyphs">fl/fl</text>
<line x1="456.29" y1="175.60" x2="459.49" y2="175.60" stroke="#222" stroke-width="0.8"/>
<line x1="457.89" y1="174.00" x2="457.89" y2="177.20" stroke="#222" stroke-width="0.8"/>
<text x="470.08" y="166.50" font-size="4.8" stroke="#444" stroke-width="0.1" text-anchor="middle" font-style="italic" fill="#444" textLength="8.40" lengthAdjust="spacingAndGlyphs">fl/fl</text>
<line x1="468.48" y1="175.60" x2="471.68" y2="175.60" stroke="#222" stroke-width="0.8"/>
<line x1="470.08" y1="174.00" x2="470.08" y2="177.20" stroke="#222" stroke-width="0.8"/>
<text x="482.27" y="166.50" font-size="4.8" stroke="#444" stroke-width="0.1" text-anchor="middle" font-style="italic" fill="#444" textLength="8.40" lengthAdjust="spacingAndGlyphs">fl/fl</text>
<line x1="481.37" y1="175.60" x2="483.17" y2="175.60" stroke="#222" stroke-width="0.8"/>
<text x="494.46" y="166.50" font-size="4.8" stroke="#444" stroke-width="0.1" text-anchor="middle" font-style="italic" fill="#444" textLength="8.40" lengthAdjust="spacingAndGlyphs">fl/fl</text>
<line x1="492.86" y1="175.60" x2="496.06" y2="175.60" stroke="#222" stroke-width="0.8"/>
<line x1="494.46" y1="174.00" x2="494.46" y2="177.20" stroke="#222" stroke-width="0.8"/>
<text x="506.65" y="166.50" font-size="4.8" stroke="#444" stroke-width="0.1" text-anchor="middle" font-style="italic" fill="#444" textLength="8.40" lengthAdjust="spacingAndGlyphs">fl/fl</text>
<line x1="505.05" y1="175.60" x2="508.25" y2="175.60" stroke="#222" stroke-width="0.8"/>
<line x1="506.65" y1="174.00" x2="506.65" y2="177.20" stroke="#222" stroke-width="0.8"/>
<line x1="319.40" y1="182.50" x2="339.19" y2="182.50" stroke="#1a1a1a" stroke-width="1.1"/>
<text x="329.60" y="191.40" font-size="6.6" stroke="#111" stroke-width="0.3" text-anchor="middle" font-weight="bold" textLength="18.30" lengthAdjust="spacingAndGlyphs">5 wks</text>
<line x1="343.78" y1="182.50" x2="375.76" y2="182.50" stroke="#1a1a1a" stroke-width="1.1"/>
<text x="360.37" y="191.40" font-size="6.6" stroke="#111" stroke-width="0.3" text-anchor="middle" font-weight="bold" textLength="18.60" lengthAdjust="spacingAndGlyphs">8 wks</text>
<line x1="380.35" y1="182.50" x2="412.33" y2="182.50" stroke="#1a1a1a" stroke-width="1.1"/>
<text x="396.94" y="191.40" font-size="6.6" stroke="#111" stroke-width="0.3" text-anchor="middle" font-weight="bold" textLength="21.90" lengthAdjust="spacingAndGlyphs">15 wks</text>
<line x1="416.92" y1="182.50" x2="436.71" y2="182.50" stroke="#1a1a1a" stroke-width="1.1"/>
<text x="427.12" y="191.40" font-size="6.6" stroke="#111" stroke-width="0.3" text-anchor="middle" font-weight="bold" textLength="18.30" lengthAdjust="spacingAndGlyphs">5 wks</text>
<line x1="441.30" y1="182.50" x2="473.28" y2="182.50" stroke="#1a1a1a" stroke-width="1.1"/>
<text x="457.89" y="191.40" font-size="6.6" stroke="#111" stroke-width="0.3" text-anchor="middle" font-weight="bold" textLength="18.60" lengthAdjust="spacingAndGlyphs">8 wks</text>
<line x1="477.87" y1="182.50" x2="509.85" y2="182.50" stroke="#1a1a1a" stroke-width="1.1"/>
<text x="494.46" y="191.40" font-size="6.6" stroke="#111" stroke-width="0.3" text-anchor="middle" font-weight="bold" textLength="21.90" lengthAdjust="spacingAndGlyphs">15 wks</text>
<line x1="321.30" y1="196.30" x2="411.73" y2="196.30" stroke="#1a1a1a" stroke-width="1.1"/>
<line x1="417.92" y1="196.30" x2="509.25" y2="196.30" stroke="#1a1a1a" stroke-width="1.1"/>
<text x="366.47" y="205.10" font-size="6.5" stroke="#111" stroke-width="0.3" text-anchor="middle" font-weight="bold" textLength="15.40" lengthAdjust="spacingAndGlyphs">Male</text>
<text x="463.99" y="205.10" font-size="6.5" stroke="#111" stroke-width="0.3" text-anchor="middle" font-weight="bold" textLength="22.80" lengthAdjust="spacingAndGlyphs">Female</text>
<path d="M319.35 152.96L320.60 150.84L321.85 152.96Z" fill="#bd0f2c"/>
<path d="M320.95 152.26L322.20 150.14L323.45 152.26Z" fill="#bd0f2c"/>
<path d="M322.55 153.06L323.80 150.94L325.05 153.06Z" fill="#bd0f2c"/>
<path d="M324.15 152.26L325.40 150.14L326.65 152.26Z" fill="#bd0f2c"/>
<path d="M325.75 152.96L327.00 150.84L328.25 152.96Z" fill="#bd0f2c"/>
<path d="M321.75 153.46L323.00 151.34L324.25 153.46Z" fill="#bd0f2c"/>
<path d="M323.35 151.96L324.60 149.84L325.85 151.96Z" fill="#bd0f2c"/>
<line x1="319.80" y1="151.50" x2="327.80" y2="151.50" stroke="#3a0a12" stroke-width="1.2"/>
<line x1="335.99" y1="137.70" x2="335.99" y2="143.10" stroke="#111" stroke-width="1.2"/>
<line x1="333.69" y1="137.70" x2="338.29" y2="137.70" stroke="#111" stroke-width="1.2"/>
<line x1="333.69" y1="143.10" x2="338.29" y2="143.10" stroke="#111" stroke-width="1.2"/>
<line x1="331.74" y1="140.20" x2="340.24" y2="140.20" stroke="#111" stroke-width="1.4"/>
<path d="M334.54 138.03L335.99 135.57L337.44 138.03Z" fill="#bd0f2c"/>
<path d="M331.64 140.43L333.09 137.97L334.54 140.43Z" fill="#bd0f2c"/>
<path d="M337.44 140.43L338.89 137.97L340.34 140.43Z" fill="#bd0f2c"/>
<path d="M334.54 142.23L335.99 139.77L337.44 142.23Z" fill="#bd0f2c"/>
<path d="M331.64 143.43L333.09 140.97L334.54 143.43Z" fill="#bd0f2c"/>
<path d="M337.44 143.63L338.89 141.17L340.34 143.63Z" fill="#bd0f2c"/>
<path d="M334.54 145.43L335.99 142.97L337.44 145.43Z" fill="#bd0f2c"/>
<path d="M343.73 152.56L344.98 150.44L346.23 152.56Z" fill="#bd0f2c"/>
<path d="M345.33 151.86L346.58 149.74L347.83 151.86Z" fill="#bd0f2c"/>
<path d="M346.93 152.66L348.18 150.54L349.43 152.66Z" fill="#bd0f2c"/>
<path d="M348.53 151.86L349.78 149.74L351.03 151.86Z" fill="#bd0f2c"/>
<path d="M350.13 152.56L351.38 150.44L352.63 152.56Z" fill="#bd0f2c"/>
<path d="M346.13 153.06L347.38 150.94L348.63 153.06Z" fill="#bd0f2c"/>
<path d="M347.73 151.56L348.98 149.44L350.23 151.56Z" fill="#bd0f2c"/>
<line x1="344.18" y1="151.10" x2="352.18" y2="151.10" stroke="#3a0a12" stroke-width="1.2"/>
<path d="M355.92 150.96L357.17 148.84L358.42 150.96Z" fill="#bd0f2c"/>
<path d="M357.52 150.26L358.77 148.14L360.02 150.26Z" fill="#bd0f2c"/>
<path d="M359.12 151.06L360.37 148.94L361.62 151.06Z" fill="#bd0f2c"/>
<path d="M360.72 150.26L361.97 148.14L363.22 150.26Z" fill="#bd0f2c"/>
<path d="M362.32 150.96L363.57 148.84L364.82 150.96Z" fill="#bd0f2c"/>
<path d="M358.32 151.46L359.57 149.34L360.82 151.46Z" fill="#bd0f2c"/>
<path d="M359.92 149.96L361.17 147.84L362.42 149.96Z" fill="#bd0f2c"/>
<line x1="356.37" y1="149.50" x2="364.37" y2="149.50" stroke="#3a0a12" stroke-width="1.2"/>
<line x1="372.56" y1="89.10" x2="372.56" y2="118.80" stroke="#111" stroke-width="1.2"/>
<line x1="370.26" y1="89.10" x2="374.86" y2="89.10" stroke="#111" stroke-width="1.2"/>
<line x1="370.26" y1="118.80" x2="374.86" y2="118.80" stroke="#111" stroke-width="1.2"/>
<line x1="368.31" y1="103.90" x2="376.81" y2="103.90" stroke="#111" stroke-width="1.4"/>
<path d="M371.40 85.63L372.85 83.17L374.30 85.63Z" fill="#bd0f2c"/>
<path d="M374.01 84.53L375.46 82.07L376.91 84.53Z" fill="#bd0f2c"/>
<path d="M371.11 98.23L372.56 95.77L374.01 98.23Z" fill="#bd0f2c"/>
<path d="M371.11 113.23L372.56 110.77L374.01 113.23Z" fill="#bd0f2c"/>
<path d="M368.21 117.73L369.66 115.27L371.11 117.73Z" fill="#bd0f2c"/>
<path d="M374.01 119.43L375.46 116.97L376.91 119.43Z" fill="#bd0f2c"/>
<path d="M380.30 151.76L381.55 149.64L382.80 151.76Z" fill="#bd0f2c"/>
<path d="M381.90 151.06L383.15 148.94L384.40 151.06Z" fill="#bd0f2c"/>
<path d="M383.50 151.86L384.75 149.74L386.00 151.86Z" fill="#bd0f2c"/>
<path d="M385.10 151.06L386.35 148.94L387.60 151.06Z" fill="#bd0f2c"/>
<path d="M386.70 151.76L387.95 149.64L389.20 151.76Z" fill="#bd0f2c"/>
<path d="M382.70 152.26L383.95 150.14L385.20 152.26Z" fill="#bd0f2c"/>
<path d="M384.30 150.76L385.55 148.64L386.80 150.76Z" fill="#bd0f2c"/>
<line x1="380.75" y1="150.30" x2="388.75" y2="150.30" stroke="#3a0a12" stroke-width="1.2"/>
<path d="M392.49 150.06L393.74 147.94L394.99 150.06Z" fill="#bd0f2c"/>
<path d="M394.09 149.36L395.34 147.24L396.59 149.36Z" fill="#bd0f2c"/>
<path d="M395.69 150.16L396.94 148.04L398.19 150.16Z" fill="#bd0f2c"/>
<path d="M397.29 149.36L398.54 147.24L399.79 149.36Z" fill="#bd0f2c"/>
<path d="M398.89 150.06L400.14 147.94L401.39 150.06Z" fill="#bd0f2c"/>
<path d="M394.89 150.56L396.14 148.44L397.39 150.56Z" fill="#bd0f2c"/>
<path d="M396.49 149.06L397.74 146.94L398.99 149.06Z" fill="#bd0f2c"/>
<line x1="392.94" y1="148.60" x2="400.94" y2="148.60" stroke="#3a0a12" stroke-width="1.2"/>
<line x1="409.13" y1="71.40" x2="409.13" y2="104.40" stroke="#111" stroke-width="1.2"/>
<line x1="406.83" y1="71.40" x2="411.43" y2="71.40" stroke="#111" stroke-width="1.2"/>
<line x1="406.83" y1="104.40" x2="411.43" y2="104.40" stroke="#111" stroke-width="1.2"/>
<line x1="404.88" y1="88.30" x2="413.38" y2="88.30" stroke="#111" stroke-width="1.4"/>
<path d="M407.68 64.83L409.13 62.37L410.58 64.83Z" fill="#bd0f2c"/>
<path d="M404.20 97.43L405.65 94.97L407.10 97.43Z" fill="#bd0f2c"/>
<path d="M407.68 98.73L409.13 96.27L410.58 98.73Z" fill="#bd0f2c"/>
<path d="M410.58 98.23L412.03 95.77L413.48 98.23Z" fill="#bd0f2c"/>
<path d="M416.87 152.66L418.12 150.54L419.37 152.66Z" fill="#bd0f2c"/>
<path d="M418.47 151.96L419.72 149.84L420.97 151.96Z" fill="#bd0f2c"/>
<path d="M420.07 152.76L421.32 150.64L422.57 152.76Z" fill="#bd0f2c"/>
<path d="M421.67 151.96L422.92 149.84L424.17 151.96Z" fill="#bd0f2c"/>
<path d="M423.27 152.66L424.52 150.54L425.77 152.66Z" fill="#bd0f2c"/>
<path d="M419.27 153.16L420.52 151.04L421.77 153.16Z" fill="#bd0f2c"/>
<path d="M420.87 151.66L422.12 149.54L423.37 151.66Z" fill="#bd0f2c"/>
<line x1="417.32" y1="151.20" x2="425.32" y2="151.20" stroke="#3a0a12" stroke-width="1.2"/>
<line x1="433.51" y1="124.50" x2="433.51" y2="138.90" stroke="#111" stroke-width="1.2"/>
<line x1="431.21" y1="124.50" x2="435.81" y2="124.50" stroke="#111" stroke-width="1.2"/>
<line x1="431.21" y1="138.90" x2="435.81" y2="138.90" stroke="#111" stroke-width="1.2"/>
<line x1="429.26" y1="131.30" x2="437.76" y2="131.30" stroke="#111" stroke-width="1.4"/>
<path d="M432.06 121.83L433.51 119.37L434.96 121.83Z" fill="#bd0f2c"/>
<path d="M435.25 128.73L436.70 126.27L438.15 128.73Z" fill="#bd0f2c"/>
<path d="M428.58 132.03L430.03 129.57L431.48 132.03Z" fill="#bd0f2c"/>
<path d="M432.06 132.73L433.51 130.27L434.96 132.73Z" fill="#bd0f2c"/>
<path d="M435.25 139.73L436.70 137.27L438.15 139.73Z" fill="#bd0f2c"/>
<path d="M432.06 141.23L433.51 138.77L434.96 141.23Z" fill="#bd0f2c"/>
<path d="M441.25 151.76L442.50 149.64L443.75 151.76Z" fill="#bd0f2c"/>
<path d="M442.85 151.06L444.10 148.94L445.35 151.06Z" fill="#bd0f2c"/>
<path d="M444.45 151.86L445.70 149.74L446.95 151.86Z" fill="#bd0f2c"/>
<path d="M446.05 151.06L447.30 148.94L448.55 151.06Z" fill="#bd0f2c"/>
<path d="M447.65 151.76L448.90 149.64L450.15 151.76Z" fill="#bd0f2c"/>
<path d="M443.65 152.26L444.90 150.14L446.15 152.26Z" fill="#bd0f2c"/>
<path d="M445.25 150.76L446.50 148.64L447.75 150.76Z" fill="#bd0f2c"/>
<line x1="441.70" y1="150.30" x2="449.70" y2="150.30" stroke="#3a0a12" stroke-width="1.2"/>
<path d="M453.44 149.76L454.69 147.64L455.94 149.76Z" fill="#bd0f2c"/>
<path d="M455.04 149.06L456.29 146.94L457.54 149.06Z" fill="#bd0f2c"/>
<path d="M456.64 149.86L457.89 147.74L459.14 149.86Z" fill="#bd0f2c"/>
<path d="M458.24 149.06L459.49 146.94L460.74 149.06Z" fill="#bd0f2c"/>
<path d="M459.84 149.76L461.09 147.64L462.34 149.76Z" fill="#bd0f2c"/>
<path d="M455.84 150.26L457.09 148.14L458.34 150.26Z" fill="#bd0f2c"/>
<path d="M457.44 148.76L458.69 146.64L459.94 148.76Z" fill="#bd0f2c"/>
<line x1="453.89" y1="148.30" x2="461.89" y2="148.30" stroke="#3a0a12" stroke-width="1.2"/>
<line x1="470.08" y1="109.50" x2="470.08" y2="129.40" stroke="#111" stroke-width="1.2"/>
<line x1="467.78" y1="109.50" x2="472.38" y2="109.50" stroke="#111" stroke-width="1.2"/>
<line x1="467.78" y1="129.40" x2="472.38" y2="129.40" stroke="#111" stroke-width="1.2"/>
<line x1="465.83" y1="118.90" x2="474.33" y2="118.90" stroke="#111" stroke-width="1.4"/>
<path d="M468.63 97.73L470.08 95.27L471.53 97.73Z" fill="#bd0f2c"/>
<path d="M465.44 122.63L466.89 120.17L468.34 122.63Z" fill="#bd0f2c"/>
<path d="M471.82 122.63L473.27 120.17L474.72 122.63Z" fill="#bd0f2c"/>
<path d="M465.44 126.03L466.89 123.57L468.34 126.03Z" fill="#bd0f2c"/>
<path d="M471.82 126.03L473.27 123.57L474.72 126.03Z" fill="#bd0f2c"/>
<path d="M468.63 127.73L470.08 125.27L471.53 127.73Z" fill="#bd0f2c"/>
<path d="M477.82 150.96L479.07 148.84L480.32 150.96Z" fill="#bd0f2c"/>
<path d="M479.42 150.26L480.67 148.14L481.92 150.26Z" fill="#bd0f2c"/>
<path d="M481.02 151.06L482.27 148.94L483.52 151.06Z" fill="#bd0f2c"/>
<path d="M482.62 150.26L483.87 148.14L485.12 150.26Z" fill="#bd0f2c"/>
<path d="M484.22 150.96L485.47 148.84L486.72 150.96Z" fill="#bd0f2c"/>
<path d="M480.22 151.46L481.47 149.34L482.72 151.46Z" fill="#bd0f2c"/>
<path d="M481.82 149.96L483.07 147.84L484.32 149.96Z" fill="#bd0f2c"/>
<line x1="478.27" y1="149.50" x2="486.27" y2="149.50" stroke="#3a0a12" stroke-width="1.2"/>
<path d="M490.01 149.76L491.26 147.64L492.51 149.76Z" fill="#bd0f2c"/>
<path d="M491.61 149.06L492.86 146.94L494.11 149.06Z" fill="#bd0f2c"/>
<path d="M493.21 149.86L494.46 147.74L495.71 149.86Z" fill="#bd0f2c"/>
<path d="M494.81 149.06L496.06 146.94L497.31 149.06Z" fill="#bd0f2c"/>
<path d="M496.41 149.76L497.66 147.64L498.91 149.76Z" fill="#bd0f2c"/>
<path d="M492.41 150.26L493.66 148.14L494.91 150.26Z" fill="#bd0f2c"/>
<path d="M494.01 148.76L495.26 146.64L496.51 148.76Z" fill="#bd0f2c"/>
<line x1="490.46" y1="148.30" x2="498.46" y2="148.30" stroke="#3a0a12" stroke-width="1.2"/>
<line x1="506.65" y1="78.70" x2="506.65" y2="112.90" stroke="#111" stroke-width="1.2"/>
<line x1="504.35" y1="78.70" x2="508.95" y2="78.70" stroke="#111" stroke-width="1.2"/>
<line x1="504.35" y1="112.90" x2="508.95" y2="112.90" stroke="#111" stroke-width="1.2"/>
<line x1="502.40" y1="95.60" x2="510.90" y2="95.60" stroke="#111" stroke-width="1.4"/>
<path d="M505.20 68.73L506.65 66.27L508.10 68.73Z" fill="#bd0f2c"/>
<path d="M505.20 91.93L506.65 89.47L508.10 91.93Z" fill="#bd0f2c"/>
<path d="M505.20 99.23L506.65 96.77L508.10 99.23Z" fill="#bd0f2c"/>
<path d="M505.20 110.73L506.65 108.27L508.10 110.73Z" fill="#bd0f2c"/>
<path d="M505.20 117.53L506.65 115.07L508.10 117.53Z" fill="#bd0f2c"/>
<path d="M323.30 128.60V124.70H336.40V128.60" fill="none" stroke="#111" stroke-width="1.3"/>
<circle cx="327.40" cy="121.40" r="0.85" fill="#111"/>
<circle cx="329.85" cy="121.40" r="0.85" fill="#111"/>
<circle cx="332.30" cy="121.40" r="0.85" fill="#111"/>
<text x="329.85" y="112.60" font-size="5.6" stroke="#333" stroke-width="0.22" text-anchor="middle" fill="#333">4.5x</text>
<path d="M347.60 140.20V135.90H360.60V140.20" fill="none" stroke="#111" stroke-width="1.3"/>
<circle cx="352.88" cy="132.40" r="0.85" fill="#111"/>
<circle cx="355.33" cy="132.40" r="0.85" fill="#111"/>
<text x="354.10" y="124.40" font-size="5.6" stroke="#333" stroke-width="0.22" text-anchor="middle" fill="#333">1.3x</text>
<path d="M347.60 77.30V68.40H373.20V77.30" fill="none" stroke="#111" stroke-width="1.3"/>
<circle cx="357.95" cy="65.80" r="0.85" fill="#111"/>
<circle cx="360.40" cy="65.80" r="0.85" fill="#111"/>
<circle cx="362.85" cy="65.80" r="0.85" fill="#111"/>
<text x="360.40" y="58.60" font-size="5.6" stroke="#333" stroke-width="0.22" text-anchor="middle" fill="#333">12.8x</text>
<path d="M386.00 142.20V138.30H398.40V142.20" fill="none" stroke="#111" stroke-width="1.3"/>
<text x="392.20" y="135.40" font-size="5.6" stroke="#333" stroke-width="0.22" text-anchor="middle" fill="#333">1.3x</text>
<path d="M384.30 59.10V50.40H410.00V59.10" fill="none" stroke="#111" stroke-width="1.3"/>
<circle cx="394.70" cy="47.90" r="0.85" fill="#111"/>
<circle cx="397.15" cy="47.90" r="0.85" fill="#111"/>
<circle cx="399.60" cy="47.90" r="0.85" fill="#111"/>
<text x="396.00" y="41.20" font-size="5.6" stroke="#333" stroke-width="0.22" text-anchor="middle" fill="#333">14.8x</text>
<path d="M421.40 116.80V112.10H434.50V116.80" fill="none" stroke="#111" stroke-width="1.3"/>
<circle cx="425.50" cy="109.50" r="0.85" fill="#111"/>
<circle cx="427.95" cy="109.50" r="0.85" fill="#111"/>
<circle cx="430.40" cy="109.50" r="0.85" fill="#111"/>
<text x="427.95" y="103.10" font-size="5.6" stroke="#333" stroke-width="0.22" text-anchor="middle" fill="#333">6.5x</text>
<path d="M445.40 140.50V135.90H458.20V140.50" fill="none" stroke="#111" stroke-width="1.3"/>
<circle cx="450.57" cy="133.00" r="0.85" fill="#111"/>
<circle cx="453.02" cy="133.00" r="0.85" fill="#111"/>
<text x="451.80" y="127.80" font-size="5.6" stroke="#333" stroke-width="0.22" text-anchor="middle" fill="#333">1.5x</text>
<path d="M445.40 86.90V78.50H470.50V86.90" fill="none" stroke="#111" stroke-width="1.3"/>
<circle cx="455.50" cy="76.00" r="0.85" fill="#111"/>
<circle cx="457.95" cy="76.00" r="0.85" fill="#111"/>
<circle cx="460.40" cy="76.00" r="0.85" fill="#111"/>
<text x="456.40" y="69.40" font-size="5.6" stroke="#333" stroke-width="0.22" text-anchor="middle" fill="#333">8.5x</text>
<path d="M482.10 144.00V139.30H494.70V144.00" fill="none" stroke="#111" stroke-width="1.3"/>
<text x="488.40" y="134.60" font-size="5.6" stroke="#333" stroke-width="0.22" text-anchor="middle" fill="#333">1.3x</text>
<path d="M481.20 60.50V51.90H506.40V60.50" fill="none" stroke="#111" stroke-width="1.3"/>
<circle cx="491.35" cy="49.00" r="0.85" fill="#111"/>
<circle cx="493.80" cy="49.00" r="0.85" fill="#111"/>
<circle cx="496.25" cy="49.00" r="0.85" fill="#111"/>
<text x="492.50" y="42.80" font-size="5.6" stroke="#333" stroke-width="0.22" text-anchor="middle" fill="#333">10.5x</text>
<text x="7.40" y="233.50" font-size="12.6" stroke="#111" stroke-width="0.4" font-weight="bold" textLength="8.40" lengthAdjust="spacingAndGlyphs">C</text>
<text x="7.60" y="247.00" font-size="9.2" stroke="#111" stroke-width="0.22" textLength="53.30" lengthAdjust="spacingAndGlyphs">Liver extracts</text>
<text x="87.50" y="258.50" font-size="6.6" stroke="#111" stroke-width="0.22" textLength="23.80" lengthAdjust="spacingAndGlyphs"><tspan font-style="italic">fl/fl</tspan>;Cre-</text>
<text x="136.20" y="258.50" font-size="6.6" stroke="#111" stroke-width="0.22" textLength="33.60" lengthAdjust="spacingAndGlyphs"><tspan font-style="italic">fl/wt</tspan>;Cre+</text>
<text x="191.40" y="258.50" font-size="6.6" stroke="#111" stroke-width="0.22" textLength="26.90" lengthAdjust="spacingAndGlyphs"><tspan font-style="italic">fl/fl</tspan>;Cre+</text>
<line x1="75.50" y1="261.50" x2="122.80" y2="261.50" stroke="#111" stroke-width="1.2"/>
<line x1="127.60" y1="261.50" x2="176.00" y2="261.50" stroke="#111" stroke-width="1.2"/>
<line x1="181.40" y1="261.50" x2="229.90" y2="261.50" stroke="#111" stroke-width="1.2"/>
<text x="7.80" y="268.90" font-size="6.8" stroke="#111" stroke-width="0.3" font-weight="bold" textLength="8.20" lengthAdjust="spacingAndGlyphs">IB:</text>
<text x="7.60" y="277.30" font-size="6.4" stroke="#222" stroke-width="0.22" fill="#222" textLength="32.60" lengthAdjust="spacingAndGlyphs">Anti-NEO1</text>
<text x="11.00" y="285.30" font-size="6.4" stroke="#222" stroke-width="0.22" fill="#222" textLength="26.10" lengthAdjust="spacingAndGlyphs">FNIII 1-6</text>
<text x="10.70" y="307.40" font-size="6.4" stroke="#222" stroke-width="0.22" fill="#222" textLength="27.20" lengthAdjust="spacingAndGlyphs">Anti-Tfr2</text>
<text x="10.50" y="337.40" font-size="6.4" stroke="#222" stroke-width="0.22" fill="#222" textLength="26.50" lengthAdjust="spacingAndGlyphs">Anti-Tfr1</text>
<text x="9.50" y="371.00" font-size="6.4" stroke="#222" stroke-width="0.22" fill="#222" textLength="29.20" lengthAdjust="spacingAndGlyphs">Anti-actin</text>
<line x1="44.40" y1="265.70" x2="44.40" y2="287.30" stroke="#111" stroke-width="1.3"/>
<line x1="44.40" y1="292.50" x2="44.40" y2="315.70" stroke="#111" stroke-width="1.3"/>
<line x1="44.40" y1="322.50" x2="44.40" y2="346.20" stroke="#111" stroke-width="1.3"/>
<line x1="44.40" y1="353.70" x2="44.40" y2="382.50" stroke="#111" stroke-width="1.3"/>
<text x="47.00" y="278.50" font-size="6.4" stroke="#222" stroke-width="0.22" fill="#222" textLength="16.10" lengthAdjust="spacingAndGlyphs">Neo1</text>
<text x="52.00" y="307.60" font-size="6.4" stroke="#222" stroke-width="0.22" fill="#222" textLength="11.90" lengthAdjust="spacingAndGlyphs">Tfr2</text>
<text x="51.80" y="337.50" font-size="6.4" stroke="#222" stroke-width="0.22" fill="#222" textLength="12.00" lengthAdjust="spacingAndGlyphs">Tfr1</text>
<text x="48.30" y="368.60" font-size="6.4" stroke="#222" stroke-width="0.22" fill="#222" textLength="15.40" lengthAdjust="spacingAndGlyphs">Actin</text>
<line x1="66.90" y1="276.00" x2="71.60" y2="276.00" stroke="#111" stroke-width="1.4"/>
<line x1="66.90" y1="305.20" x2="71.60" y2="305.20" stroke="#111" stroke-width="1.4"/>
<line x1="66.90" y1="335.20" x2="71.60" y2="335.20" stroke="#111" stroke-width="1.4"/>
<line x1="66.90" y1="366.30" x2="71.60" y2="366.30" stroke="#111" stroke-width="1.4"/>
<line x1="236.60" y1="282.30" x2="242.20" y2="282.30" stroke="#111" stroke-width="1.4"/>
<text x="245.60" y="284.80" font-size="7.0" stroke="#222" stroke-width="0.22" fill="#222" textLength="11.00" lengthAdjust="spacingAndGlyphs">180</text>
<line x1="236.60" y1="306.50" x2="242.20" y2="306.50" stroke="#111" stroke-width="1.4"/>
<text x="245.10" y="309.00" font-size="7.0" stroke="#222" stroke-width="0.22" fill="#222" textLength="7.30" lengthAdjust="spacingAndGlyphs">95</text>
<line x1="236.60" y1="339.20" x2="242.20" y2="339.20" stroke="#111" stroke-width="1.4"/>
<text x="245.10" y="341.70" font-size="7.0" stroke="#222" stroke-width="0.22" fill="#222" textLength="7.30" lengthAdjust="spacingAndGlyphs">95</text>
<line x1="236.60" y1="362.40" x2="242.20" y2="362.40" stroke="#111" stroke-width="1.4"/>
<text x="245.10" y="364.90" font-size="7.0" stroke="#222" stroke-width="0.22" fill="#222" textLength="7.30" lengthAdjust="spacingAndGlyphs">43</text>
<text x="81.30" y="390.40" font-size="6.6" stroke="#222" stroke-width="0.22" text-anchor="middle" fill="#222">1</text>
<text x="93.90" y="390.40" font-size="6.6" stroke="#222" stroke-width="0.22" text-anchor="middle" fill="#222">2</text>
<text x="106.30" y="390.40" font-size="6.6" stroke="#222" stroke-width="0.22" text-anchor="middle" fill="#222">3</text>
<text x="119.00" y="390.40" font-size="6.6" stroke="#222" stroke-width="0.22" text-anchor="middle" fill="#222">4</text>
<text x="132.10" y="390.40" font-size="6.6" stroke="#222" stroke-width="0.22" text-anchor="middle" fill="#222">5</text>
<text x="145.00" y="390.40" font-size="6.6" stroke="#222" stroke-width="0.22" text-anchor="middle" fill="#222">6</text>
<text x="157.60" y="390.40" font-size="6.6" stroke="#222" stroke-width="0.22" text-anchor="middle" fill="#222">7</text>
<text x="171.20" y="390.40" font-size="6.6" stroke="#222" stroke-width="0.22" text-anchor="middle" fill="#222">8</text>
<text x="184.40" y="390.40" font-size="6.6" stroke="#222" stroke-width="0.22" text-anchor="middle" fill="#222">9</text>
<text x="198.10" y="390.40" font-size="6.6" stroke="#222" stroke-width="0.22" text-anchor="middle" fill="#222">10</text>
<text x="211.30" y="390.40" font-size="6.6" stroke="#222" stroke-width="0.22" text-anchor="middle" fill="#222">11</text>
<text x="225.20" y="390.40" font-size="6.6" stroke="#222" stroke-width="0.22" text-anchor="middle" fill="#222">12</text>
<defs><filter id="bl1" x="-20%" y="-50%" width="140%" height="200%"><feGaussianBlur stdDeviation="0.9"/></filter><filter id="bl2" x="-20%" y="-50%" width="140%" height="200%"><feGaussianBlur stdDeviation="0.6"/></filter><filter id="bl3" x="-20%" y="-50%" width="140%" height="200%"><feGaussianBlur stdDeviation="1.4"/></filter></defs>
<svg x="73.10" y="264.40" width="160.80" height="23.20" overflow="hidden"><g transform="translate(-73.10 -264.40)">
<rect x="73.1" y="264.4" width="160.8" height="23.200000000000045" fill="#adadad"/>
<rect x="177.60" y="264" width="80" height="25" fill="#b3b3b3"/>
<rect x="76.30" y="266" width="9" height="21" fill="#a0a0a0" filter="url(#bl3)"/>
<rect x="88.90" y="266" width="9" height="21" fill="#a0a0a0" filter="url(#bl3)"/>
<rect x="101.80" y="266" width="9" height="21" fill="#a0a0a0" filter="url(#bl3)"/>
<rect x="114.30" y="266" width="9" height="21" fill="#a0a0a0" filter="url(#bl3)"/>
<rect x="127.50" y="266" width="9" height="21" fill="#a0a0a0" filter="url(#bl3)"/>
<rect x="140.50" y="266" width="9" height="21" fill="#a0a0a0" filter="url(#bl3)"/>
<rect x="153.00" y="266" width="9" height="21" fill="#a0a0a0" filter="url(#bl3)"/>
<rect x="166.50" y="266" width="9" height="21" fill="#a0a0a0" filter="url(#bl3)"/>
<rect x="76.40" y="274.6" width="8.8" height="2.8" fill="#7e7e7e" filter="url(#bl2)"/>
<rect x="76.80" y="280" width="8" height="6" fill="#9e9e9e" filter="url(#bl3)"/>
<rect x="89.00" y="274.6" width="8.8" height="2.8" fill="#727272" filter="url(#bl2)"/>
<rect x="89.40" y="280" width="8" height="6" fill="#9e9e9e" filter="url(#bl3)"/>
<rect x="101.90" y="274.6" width="8.8" height="2.8" fill="#7e7e7e" filter="url(#bl2)"/>
<rect x="102.30" y="280" width="8" height="6" fill="#9e9e9e" filter="url(#bl3)"/>
<rect x="114.40" y="274.6" width="8.8" height="2.8" fill="#6a6a6a" filter="url(#bl2)"/>
<rect x="114.80" y="280" width="8" height="6" fill="#9e9e9e" filter="url(#bl3)"/>
<rect x="127.60" y="274.6" width="8.8" height="2.8" fill="#838383" filter="url(#bl2)"/>
<rect x="128.00" y="280" width="8" height="6" fill="#9e9e9e" filter="url(#bl3)"/>
<rect x="140.60" y="274.6" width="8.8" height="2.8" fill="#808080" filter="url(#bl2)"/>
<rect x="141.00" y="280" width="8" height="6" fill="#9e9e9e" filter="url(#bl3)"/>
<rect x="153.10" y="274.6" width="8.8" height="2.8" fill="#888888" filter="url(#bl2)"/>
<rect x="153.50" y="280" width="8" height="6" fill="#9e9e9e" filter="url(#bl3)"/>
<rect x="166.60" y="274.6" width="8.8" height="2.8" fill="#8c8c8c" filter="url(#bl2)"/>
<rect x="167.00" y="280" width="8" height="6" fill="#9e9e9e" filter="url(#bl3)"/>
<rect x="180.20" y="272" width="8" height="8" fill="#b2b2b2" filter="url(#bl3)"/>
<rect x="193.80" y="272" width="8" height="8" fill="#b2b2b2" filter="url(#bl3)"/>
<rect x="207.20" y="272" width="8" height="8" fill="#b2b2b2" filter="url(#bl3)"/>
<rect x="220.60" y="272" width="8" height="8" fill="#b2b2b2" filter="url(#bl3)"/>
<circle cx="226.6" cy="277.9" r="0.75" fill="#111"/>
<path d="M174.6 269.6 L176 267.6" stroke="#333" stroke-width="0.7"/>
</g></svg>
<rect x="73.82" y="265.12" width="159.35" height="21.75" fill="none" stroke="#1a1a1a" stroke-width="1.45"/>
<svg x="73.10" y="291.30" width="160.80" height="26.50" overflow="hidden"><g transform="translate(-73.10 -291.30)">
<rect x="73.1" y="291.3" width="160.8" height="26.5" fill="#ececec"/>
<rect x="76.80" y="295" width="8" height="20" fill="#e4e4e4" filter="url(#bl3)"/>
<rect x="89.40" y="295" width="8" height="20" fill="#e4e4e4" filter="url(#bl3)"/>
<rect x="102.30" y="295" width="8" height="20" fill="#e4e4e4" filter="url(#bl3)"/>
<rect x="114.80" y="295" width="8" height="20" fill="#e4e4e4" filter="url(#bl3)"/>
<rect x="128.00" y="295" width="8" height="20" fill="#e4e4e4" filter="url(#bl3)"/>
<rect x="141.00" y="295" width="8" height="20" fill="#e4e4e4" filter="url(#bl3)"/>
<rect x="153.50" y="295" width="8" height="20" fill="#e4e4e4" filter="url(#bl3)"/>
<rect x="167.00" y="295" width="8" height="20" fill="#e4e4e4" filter="url(#bl3)"/>
<rect x="180.20" y="295" width="8" height="20" fill="#e4e4e4" filter="url(#bl3)"/>
<rect x="193.80" y="295" width="8" height="20" fill="#e4e4e4" filter="url(#bl3)"/>
<rect x="207.20" y="295" width="8" height="20" fill="#e4e4e4" filter="url(#bl3)"/>
<rect x="220.60" y="295" width="8" height="20" fill="#e4e4e4" filter="url(#bl3)"/>
<rect x="75.40" y="303.20" width="10.8" height="2.4" fill="#9a9a9a" filter="url(#bl2)"/>
<rect x="88.00" y="303.20" width="10.8" height="2.4" fill="#9a9a9a" filter="url(#bl2)"/>
<rect x="100.90" y="303.20" width="10.8" height="2.4" fill="#9a9a9a" filter="url(#bl2)"/>
<rect x="113.40" y="303.20" width="10.8" height="2.4" fill="#9a9a9a" filter="url(#bl2)"/>
<rect x="126.60" y="303.20" width="10.8" height="2.4" fill="#9a9a9a" filter="url(#bl2)"/>
<rect x="139.60" y="303.20" width="10.8" height="2.4" fill="#9a9a9a" filter="url(#bl2)"/>
<rect x="152.10" y="303.20" width="10.8" height="2.4" fill="#9a9a9a" filter="url(#bl2)"/>
<rect x="165.60" y="303.20" width="10.8" height="2.4" fill="#9a9a9a" filter="url(#bl2)"/>
<rect x="178.80" y="303.00" width="10.8" height="2.6" fill="#5e5e5e" filter="url(#bl2)"/>
<rect x="192.40" y="303.00" width="10.8" height="2.6" fill="#5e5e5e" filter="url(#bl2)"/>
<rect x="205.80" y="303.00" width="10.8" height="2.6" fill="#5e5e5e" filter="url(#bl2)"/>
<rect x="219.20" y="303.00" width="10.8" height="2.6" fill="#5e5e5e" filter="url(#bl2)"/>
<circle cx="223.8" cy="312.4" r="0.8" fill="#111"/>
<circle cx="90.6" cy="313.3" r="0.5" fill="#999"/>
</g></svg>
<rect x="73.82" y="292.02" width="159.35" height="25.05" fill="none" stroke="#1a1a1a" stroke-width="1.45"/>
<svg x="73.10" y="320.90" width="160.80" height="28.70" overflow="hidden"><g transform="translate(-73.10 -320.90)">
<rect x="73.1" y="320.9" width="160.8" height="28.700000000000045" fill="#dcdcdc"/>
<rect x="76.30" y="323" width="9" height="25" fill="#d0d0d0" filter="url(#bl3)"/>
<rect x="88.90" y="323" width="9" height="25" fill="#d0d0d0" filter="url(#bl3)"/>
<rect x="101.80" y="323" width="9" height="25" fill="#d0d0d0" filter="url(#bl3)"/>
<rect x="114.30" y="323" width="9" height="25" fill="#d0d0d0" filter="url(#bl3)"/>
<rect x="127.50" y="323" width="9" height="25" fill="#d0d0d0" filter="url(#bl3)"/>
<rect x="140.50" y="323" width="9" height="25" fill="#d0d0d0" filter="url(#bl3)"/>
<rect x="153.00" y="323" width="9" height="25" fill="#d0d0d0" filter="url(#bl3)"/>
<rect x="166.50" y="323" width="9" height="25" fill="#d0d0d0" filter="url(#bl3)"/>
<rect x="179.70" y="323" width="9" height="25" fill="#d0d0d0" filter="url(#bl3)"/>
<rect x="193.30" y="323" width="9" height="25" fill="#d0d0d0" filter="url(#bl3)"/>
<rect x="206.70" y="323" width="9" height="25" fill="#d0d0d0" filter="url(#bl3)"/>
<rect x="220.10" y="323" width="9" height="25" fill="#d0d0d0" filter="url(#bl3)"/>
<rect x="75.80" y="332.4" width="10.0" height="6.6" rx="1.5" fill="#8a8a8a" filter="url(#bl1)"/>
<rect x="76.00" y="333.2" width="9.6" height="2.4" rx="1" fill="#3c3c3c" filter="url(#bl1)"/>
<rect x="76.80" y="342.3" width="8" height="1.6" fill="#cdcdcd" filter="url(#bl2)"/>
<rect x="88.40" y="332.4" width="10.0" height="6.6" rx="1.5" fill="#8a8a8a" filter="url(#bl1)"/>
<rect x="88.60" y="333.2" width="9.6" height="2.4" rx="1" fill="#3c3c3c" filter="url(#bl1)"/>
<rect x="89.40" y="342.3" width="8" height="1.6" fill="#cdcdcd" filter="url(#bl2)"/>
<rect x="101.30" y="332.4" width="10.0" height="6.6" rx="1.5" fill="#8a8a8a" filter="url(#bl1)"/>
<rect x="101.50" y="333.2" width="9.6" height="2.4" rx="1" fill="#3c3c3c" filter="url(#bl1)"/>
<rect x="102.30" y="342.3" width="8" height="1.6" fill="#cdcdcd" filter="url(#bl2)"/>
<rect x="113.80" y="332.4" width="10.0" height="6.6" rx="1.5" fill="#8a8a8a" filter="url(#bl1)"/>
<rect x="114.00" y="333.2" width="9.6" height="2.4" rx="1" fill="#3c3c3c" filter="url(#bl1)"/>
<rect x="114.80" y="342.3" width="8" height="1.6" fill="#cdcdcd" filter="url(#bl2)"/>
<rect x="127.00" y="332.4" width="10.0" height="6.6" rx="1.5" fill="#8a8a8a" filter="url(#bl1)"/>
<rect x="127.20" y="333.2" width="9.6" height="2.4" rx="1" fill="#3c3c3c" filter="url(#bl1)"/>
<rect x="128.00" y="342.3" width="8" height="1.6" fill="#cdcdcd" filter="url(#bl2)"/>
<rect x="140.00" y="332.4" width="10.0" height="6.6" rx="1.5" fill="#8a8a8a" filter="url(#bl1)"/>
<rect x="140.20" y="333.2" width="9.6" height="2.4" rx="1" fill="#3c3c3c" filter="url(#bl1)"/>
<rect x="141.00" y="342.3" width="8" height="1.6" fill="#cdcdcd" filter="url(#bl2)"/>
<rect x="152.50" y="332.4" width="10.0" height="6.6" rx="1.5" fill="#8a8a8a" filter="url(#bl1)"/>
<rect x="152.70" y="333.2" width="9.6" height="2.4" rx="1" fill="#3c3c3c" filter="url(#bl1)"/>
<rect x="153.50" y="342.3" width="8" height="1.6" fill="#cdcdcd" filter="url(#bl2)"/>
<rect x="166.00" y="332.4" width="10.0" height="6.6" rx="1.5" fill="#8a8a8a" filter="url(#bl1)"/>
<rect x="166.20" y="333.2" width="9.6" height="2.4" rx="1" fill="#3c3c3c" filter="url(#bl1)"/>
<rect x="167.00" y="342.3" width="8" height="1.6" fill="#cdcdcd" filter="url(#bl2)"/>
<rect x="179.20" y="332.3" width="10" height="6" fill="#bababa" filter="url(#bl1)"/>
<rect x="180.20" y="342.3" width="8" height="1.6" fill="#cdcdcd" filter="url(#bl2)"/>
<rect x="192.80" y="332.3" width="10" height="6" fill="#bababa" filter="url(#bl1)"/>
<rect x="193.80" y="342.3" width="8" height="1.6" fill="#cdcdcd" filter="url(#bl2)"/>
<rect x="206.20" y="332.3" width="10" height="6" fill="#bababa" filter="url(#bl1)"/>
<rect x="207.20" y="342.3" width="8" height="1.6" fill="#cdcdcd" filter="url(#bl2)"/>
<rect x="219.60" y="332.3" width="10" height="6" fill="#bababa" filter="url(#bl1)"/>
<rect x="220.60" y="342.3" width="8" height="1.6" fill="#cdcdcd" filter="url(#bl2)"/>
<circle cx="91.7" cy="334.6" r="1.1" fill="#f4f4f4" filter="url(#bl2)"/>
<circle cx="108.6" cy="338.6" r="0.9" fill="#eeeeee" filter="url(#bl2)"/>
</g></svg>
<rect x="73.82" y="321.62" width="159.35" height="27.25" fill="none" stroke="#1a1a1a" stroke-width="1.45"/>
<svg x="73.10" y="353.50" width="160.80" height="27.70" overflow="hidden"><g transform="translate(-73.10 -353.50)">
<rect x="73.1" y="353.5" width="160.8" height="27.69999999999999" fill="#f1f1f1"/>
<rect x="76.30" y="357.2" width="9" height="2.2" fill="#e2e2e2" filter="url(#bl1)"/>
<rect x="76.30" y="371.5" width="9" height="3" fill="#e9e9e9" filter="url(#bl1)"/>
<rect x="88.90" y="357.2" width="9" height="2.2" fill="#e2e2e2" filter="url(#bl1)"/>
<rect x="88.90" y="371.5" width="9" height="3" fill="#e9e9e9" filter="url(#bl1)"/>
<rect x="101.80" y="357.2" width="9" height="2.2" fill="#e2e2e2" filter="url(#bl1)"/>
<rect x="101.80" y="371.5" width="9" height="3" fill="#e9e9e9" filter="url(#bl1)"/>
<rect x="114.30" y="357.2" width="9" height="2.2" fill="#e2e2e2" filter="url(#bl1)"/>
<rect x="114.30" y="371.5" width="9" height="3" fill="#e9e9e9" filter="url(#bl1)"/>
<rect x="127.50" y="357.2" width="9" height="2.2" fill="#e2e2e2" filter="url(#bl1)"/>
<rect x="127.50" y="371.5" width="9" height="3" fill="#e9e9e9" filter="url(#bl1)"/>
<rect x="140.50" y="357.2" width="9" height="2.2" fill="#e2e2e2" filter="url(#bl1)"/>
<rect x="140.50" y="371.5" width="9" height="3" fill="#e9e9e9" filter="url(#bl1)"/>
<rect x="153.00" y="357.2" width="9" height="2.2" fill="#e2e2e2" filter="url(#bl1)"/>
<rect x="153.00" y="371.5" width="9" height="3" fill="#e9e9e9" filter="url(#bl1)"/>
<rect x="166.50" y="357.2" width="9" height="2.2" fill="#e2e2e2" filter="url(#bl1)"/>
<rect x="166.50" y="371.5" width="9" height="3" fill="#e9e9e9" filter="url(#bl1)"/>
<rect x="179.70" y="357.2" width="9" height="2.2" fill="#e2e2e2" filter="url(#bl1)"/>
<rect x="179.70" y="371.5" width="9" height="3" fill="#e9e9e9" filter="url(#bl1)"/>
<rect x="193.30" y="357.2" width="9" height="2.2" fill="#e2e2e2" filter="url(#bl1)"/>
<rect x="193.30" y="371.5" width="9" height="3" fill="#e9e9e9" filter="url(#bl1)"/>
<rect x="206.70" y="357.2" width="9" height="2.2" fill="#e2e2e2" filter="url(#bl1)"/>
<rect x="206.70" y="371.5" width="9" height="3" fill="#e9e9e9" filter="url(#bl1)"/>
<rect x="220.10" y="357.2" width="9" height="2.2" fill="#e2e2e2" filter="url(#bl1)"/>
<rect x="220.10" y="371.5" width="9" height="3" fill="#e9e9e9" filter="url(#bl1)"/>
<path d="M74.40 364.6 C75.60 366.5 76.80 366.8 80.80 366.8 C84.80 366.8 86.00 366.5 87.20 364.6" fill="none" stroke="#666" stroke-width="3.0" filter="url(#bl2)"/>
<path d="M74.40 364.6 C75.60 366.5 76.80 366.8 80.80 366.8 C84.80 366.8 86.00 366.5 87.20 364.6" fill="none" stroke="#101010" stroke-width="1.9"/>
<path d="M87.00 364.6 C88.20 366.5 89.40 366.8 93.40 366.8 C97.40 366.8 98.60 366.5 99.80 364.6" fill="none" stroke="#666" stroke-width="3.0" filter="url(#bl2)"/>
<path d="M87.00 364.6 C88.20 366.5 89.40 366.8 93.40 366.8 C97.40 366.8 98.60 366.5 99.80 364.6" fill="none" stroke="#101010" stroke-width="1.9"/>
<path d="M99.90 364.6 C101.10 366.5 102.30 366.8 106.30 366.8 C110.30 366.8 111.50 366.5 112.70 364.6" fill="none" stroke="#666" stroke-width="3.0" filter="url(#bl2)"/>
<path d="M99.90 364.6 C101.10 366.5 102.30 366.8 106.30 366.8 C110.30 366.8 111.50 366.5 112.70 364.6" fill="none" stroke="#101010" stroke-width="1.9"/>
<path d="M112.40 364.6 C113.60 366.5 114.80 366.8 118.80 366.8 C122.80 366.8 124.00 366.5 125.20 364.6" fill="none" stroke="#666" stroke-width="3.0" filter="url(#bl2)"/>
<path d="M112.40 364.6 C113.60 366.5 114.80 366.8 118.80 366.8 C122.80 366.8 124.00 366.5 125.20 364.6" fill="none" stroke="#101010" stroke-width="1.9"/>
<path d="M125.60 364.6 C126.80 366.5 128.00 366.8 132.00 366.8 C136.00 366.8 137.20 366.5 138.40 364.6" fill="none" stroke="#666" stroke-width="3.0" filter="url(#bl2)"/>
<path d="M125.60 364.6 C126.80 366.5 128.00 366.8 132.00 366.8 C136.00 366.8 137.20 366.5 138.40 364.6" fill="none" stroke="#101010" stroke-width="1.9"/>
<path d="M138.60 364.6 C139.80 366.5 141.00 366.8 145.00 366.8 C149.00 366.8 150.20 366.5 151.40 364.6" fill="none" stroke="#666" stroke-width="3.0" filter="url(#bl2)"/>
<path d="M138.60 364.6 C139.80 366.5 141.00 366.8 145.00 366.8 C149.00 366.8 150.20 366.5 151.40 364.6" fill="none" stroke="#101010" stroke-width="1.9"/>
<path d="M151.10 364.6 C152.30 366.5 153.50 366.8 157.50 366.8 C161.50 366.8 162.70 366.5 163.90 364.6" fill="none" stroke="#666" stroke-width="3.0" filter="url(#bl2)"/>
<path d="M151.10 364.6 C152.30 366.5 153.50 366.8 157.50 366.8 C161.50 366.8 162.70 366.5 163.90 364.6" fill="none" stroke="#101010" stroke-width="1.9"/>
<path d="M164.60 364.6 C165.80 366.5 167.00 366.8 171.00 366.8 C175.00 366.8 176.20 366.5 177.40 364.6" fill="none" stroke="#666" stroke-width="3.0" filter="url(#bl2)"/>
<path d="M164.60 364.6 C165.80 366.5 167.00 366.8 171.00 366.8 C175.00 366.8 176.20 366.5 177.40 364.6" fill="none" stroke="#101010" stroke-width="1.9"/>
<path d="M177.80 364.6 C179.00 366.5 180.20 366.8 184.20 366.8 C188.20 366.8 189.40 366.5 190.60 364.6" fill="none" stroke="#666" stroke-width="3.0" filter="url(#bl2)"/>
<path d="M177.80 364.6 C179.00 366.5 180.20 366.8 184.20 366.8 C188.20 366.8 189.40 366.5 190.60 364.6" fill="none" stroke="#101010" stroke-width="1.9"/>
<path d="M191.40 364.6 C192.60 366.5 193.80 366.8 197.80 366.8 C201.80 366.8 203.00 366.5 204.20 364.6" fill="none" stroke="#666" stroke-width="3.0" filter="url(#bl2)"/>
<path d="M191.40 364.6 C192.60 366.5 193.80 366.8 197.80 366.8 C201.80 366.8 203.00 366.5 204.20 364.6" fill="none" stroke="#101010" stroke-width="1.9"/>
<path d="M204.80 364.6 C206.00 366.5 207.20 366.8 211.20 366.8 C215.20 366.8 216.40 366.5 217.60 364.6" fill="none" stroke="#666" stroke-width="3.0" filter="url(#bl2)"/>
<path d="M204.80 364.6 C206.00 366.5 207.20 366.8 211.20 366.8 C215.20 366.8 216.40 366.5 217.60 364.6" fill="none" stroke="#101010" stroke-width="1.9"/>
<path d="M218.20 364.6 C219.40 366.5 220.60 366.8 224.60 366.8 C228.60 366.8 229.80 366.5 231.00 364.6" fill="none" stroke="#666" stroke-width="3.0" filter="url(#bl2)"/>
<path d="M218.20 364.6 C219.40 366.5 220.60 366.8 224.60 366.8 C228.60 366.8 229.80 366.5 231.00 364.6" fill="none" stroke="#101010" stroke-width="1.9"/>
</g></svg>
<rect x="73.82" y="354.22" width="159.35" height="26.25" fill="none" stroke="#1a1a1a" stroke-width="1.45"/>
<text x="272.50" y="233.40" font-size="12.6" stroke="#111" stroke-width="0.4" font-weight="bold" textLength="9.40" lengthAdjust="spacingAndGlyphs">D</text>
<text x="276.60" y="247.00" font-size="9.2" stroke="#111" stroke-width="0.22" textLength="80.40" lengthAdjust="spacingAndGlyphs">Spleen nonheme Fe</text>
<line x1="318.50" y1="254.20" x2="318.50" y2="352.90" stroke="#111" stroke-width="1.25"/>
<line x1="315.30" y1="352.30" x2="318.50" y2="352.30" stroke="#111" stroke-width="1.1"/>
<text x="312.00" y="354.70" font-size="6.7" stroke="#222" stroke-width="0.22" text-anchor="end" fill="#222">0</text>
<line x1="315.30" y1="336.19" x2="318.50" y2="336.19" stroke="#111" stroke-width="1.1"/>
<text x="312.00" y="338.58" font-size="6.7" stroke="#222" stroke-width="0.22" text-anchor="end" fill="#222">50</text>
<line x1="315.30" y1="320.07" x2="318.50" y2="320.07" stroke="#111" stroke-width="1.1"/>
<text x="312.00" y="322.47" font-size="6.7" stroke="#222" stroke-width="0.22" text-anchor="end" fill="#222">100</text>
<line x1="315.30" y1="303.96" x2="318.50" y2="303.96" stroke="#111" stroke-width="1.1"/>
<text x="312.00" y="306.36" font-size="6.7" stroke="#222" stroke-width="0.22" text-anchor="end" fill="#222">150</text>
<line x1="315.30" y1="287.84" x2="318.50" y2="287.84" stroke="#111" stroke-width="1.1"/>
<text x="312.00" y="290.24" font-size="6.7" stroke="#222" stroke-width="0.22" text-anchor="end" fill="#222">200</text>
<line x1="315.30" y1="271.73" x2="318.50" y2="271.73" stroke="#111" stroke-width="1.1"/>
<text x="312.00" y="274.12" font-size="6.7" stroke="#222" stroke-width="0.22" text-anchor="end" fill="#222">250</text>
<line x1="315.30" y1="255.61" x2="318.50" y2="255.61" stroke="#111" stroke-width="1.1"/>
<text x="312.00" y="258.01" font-size="6.7" stroke="#222" stroke-width="0.22" text-anchor="end" fill="#222">300</text>
<line x1="316.00" y1="352.40" x2="513.20" y2="352.40" stroke="#111" stroke-width="1.3"/>
<line x1="324.00" y1="352.40" x2="324.00" y2="356.00" stroke="#111" stroke-width="1.1"/>
<line x1="336.18" y1="352.40" x2="336.18" y2="356.00" stroke="#111" stroke-width="1.1"/>
<line x1="348.36" y1="352.40" x2="348.36" y2="356.00" stroke="#111" stroke-width="1.1"/>
<line x1="360.54" y1="352.40" x2="360.54" y2="356.00" stroke="#111" stroke-width="1.1"/>
<line x1="372.72" y1="352.40" x2="372.72" y2="356.00" stroke="#111" stroke-width="1.1"/>
<line x1="384.90" y1="352.40" x2="384.90" y2="356.00" stroke="#111" stroke-width="1.1"/>
<line x1="397.08" y1="352.40" x2="397.08" y2="356.00" stroke="#111" stroke-width="1.1"/>
<line x1="409.26" y1="352.40" x2="409.26" y2="356.00" stroke="#111" stroke-width="1.1"/>
<line x1="421.44" y1="352.40" x2="421.44" y2="356.00" stroke="#111" stroke-width="1.1"/>
<line x1="433.62" y1="352.40" x2="433.62" y2="356.00" stroke="#111" stroke-width="1.1"/>
<line x1="445.80" y1="352.40" x2="445.80" y2="356.00" stroke="#111" stroke-width="1.1"/>
<line x1="457.98" y1="352.40" x2="457.98" y2="356.00" stroke="#111" stroke-width="1.1"/>
<line x1="470.16" y1="352.40" x2="470.16" y2="356.00" stroke="#111" stroke-width="1.1"/>
<line x1="482.34" y1="352.40" x2="482.34" y2="356.00" stroke="#111" stroke-width="1.1"/>
<line x1="494.52" y1="352.40" x2="494.52" y2="356.00" stroke="#111" stroke-width="1.1"/>
<line x1="506.70" y1="352.40" x2="506.70" y2="356.00" stroke="#111" stroke-width="1.1"/>
<text x="283.30" y="344.00" font-size="7.7" stroke="#222" stroke-width="0.22" fill="#222" textLength="83.70" lengthAdjust="spacingAndGlyphs" transform="rotate(-90 283.30 344.00)">Spleen nonheme Fe (µg/g</text>
<text x="293.50" y="319.70" font-size="7.7" stroke="#222" stroke-width="0.22" fill="#222" textLength="34.80" lengthAdjust="spacingAndGlyphs" transform="rotate(-90 293.50 319.70)">wet tissue)</text>
<text x="305.00" y="375.90" font-size="6.4" stroke="#222" stroke-width="0.22" fill="#222" textLength="10.60" lengthAdjust="spacingAndGlyphs">Cre</text>
<text x="324.00" y="364.50" font-size="4.8" stroke="#444" stroke-width="0.1" text-anchor="middle" font-style="italic" fill="#444" textLength="8.40" lengthAdjust="spacingAndGlyphs">fl/fl</text>
<line x1="323.10" y1="373.60" x2="324.90" y2="373.60" stroke="#222" stroke-width="0.8"/>
<text x="336.18" y="364.50" font-size="4.8" stroke="#444" stroke-width="0.1" text-anchor="middle" font-style="italic" fill="#444" textLength="8.40" lengthAdjust="spacingAndGlyphs">fl/fl</text>
<line x1="334.58" y1="373.60" x2="337.78" y2="373.60" stroke="#222" stroke-width="0.8"/>
<line x1="336.18" y1="372.00" x2="336.18" y2="375.20" stroke="#222" stroke-width="0.8"/>
<text x="348.36" y="364.50" font-size="4.8" stroke="#444" stroke-width="0.1" text-anchor="middle" font-style="italic" fill="#444" textLength="8.40" lengthAdjust="spacingAndGlyphs">fl/fl</text>
<line x1="347.46" y1="373.60" x2="349.26" y2="373.60" stroke="#222" stroke-width="0.8"/>
<text x="360.54" y="364.50" font-size="4.8" stroke="#444" stroke-width="0.1" text-anchor="middle" font-style="italic" fill="#444" textLength="10.60" lengthAdjust="spacingAndGlyphs">fl/wt</text>
<line x1="358.94" y1="373.60" x2="362.14" y2="373.60" stroke="#222" stroke-width="0.8"/>
<line x1="360.54" y1="372.00" x2="360.54" y2="375.20" stroke="#222" stroke-width="0.8"/>
<text x="372.72" y="364.50" font-size="4.8" stroke="#444" stroke-width="0.1" text-anchor="middle" font-style="italic" fill="#444" textLength="8.40" lengthAdjust="spacingAndGlyphs">fl/fl</text>
<line x1="371.12" y1="373.60" x2="374.32" y2="373.60" stroke="#222" stroke-width="0.8"/>
<line x1="372.72" y1="372.00" x2="372.72" y2="375.20" stroke="#222" stroke-width="0.8"/>
<text x="384.90" y="364.50" font-size="4.8" stroke="#444" stroke-width="0.1" text-anchor="middle" font-style="italic" fill="#444" textLength="8.40" lengthAdjust="spacingAndGlyphs">fl/fl</text>
<line x1="384.00" y1="373.60" x2="385.80" y2="373.60" stroke="#222" stroke-width="0.8"/>
<text x="397.08" y="364.50" font-size="4.8" stroke="#444" stroke-width="0.1" text-anchor="middle" font-style="italic" fill="#444" textLength="10.60" lengthAdjust="spacingAndGlyphs">fl/wt</text>
<line x1="395.48" y1="373.60" x2="398.68" y2="373.60" stroke="#222" stroke-width="0.8"/>
<line x1="397.08" y1="372.00" x2="397.08" y2="375.20" stroke="#222" stroke-width="0.8"/>
<text x="409.26" y="364.50" font-size="4.8" stroke="#444" stroke-width="0.1" text-anchor="middle" font-style="italic" fill="#444" textLength="8.40" lengthAdjust="spacingAndGlyphs">fl/fl</text>
<line x1="407.66" y1="373.60" x2="410.86" y2="373.60" stroke="#222" stroke-width="0.8"/>
<line x1="409.26" y1="372.00" x2="409.26" y2="375.20" stroke="#222" stroke-width="0.8"/>
<text x="421.44" y="364.50" font-size="4.8" stroke="#444" stroke-width="0.1" text-anchor="middle" font-style="italic" fill="#444" textLength="8.40" lengthAdjust="spacingAndGlyphs">fl/fl</text>
<line x1="420.54" y1="373.60" x2="422.34" y2="373.60" stroke="#222" stroke-width="0.8"/>
<text x="433.62" y="364.50" font-size="4.8" stroke="#444" stroke-width="0.1" text-anchor="middle" font-style="italic" fill="#444" textLength="8.40" lengthAdjust="spacingAndGlyphs">fl/fl</text>
<line x1="432.02" y1="373.60" x2="435.22" y2="373.60" stroke="#222" stroke-width="0.8"/>
<line x1="433.62" y1="372.00" x2="433.62" y2="375.20" stroke="#222" stroke-width="0.8"/>
<text x="445.80" y="364.50" font-size="4.8" stroke="#444" stroke-width="0.1" text-anchor="middle" font-style="italic" fill="#444" textLength="8.40" lengthAdjust="spacingAndGlyphs">fl/fl</text>
<line x1="444.90" y1="373.60" x2="446.70" y2="373.60" stroke="#222" stroke-width="0.8"/>
<text x="457.98" y="364.50" font-size="4.8" stroke="#444" stroke-width="0.1" text-anchor="middle" font-style="italic" fill="#444" textLength="10.60" lengthAdjust="spacingAndGlyphs">fl/wt</text>
<line x1="456.38" y1="373.60" x2="459.58" y2="373.60" stroke="#222" stroke-width="0.8"/>
<line x1="457.98" y1="372.00" x2="457.98" y2="375.20" stroke="#222" stroke-width="0.8"/>
<text x="470.16" y="364.50" font-size="4.8" stroke="#444" stroke-width="0.1" text-anchor="middle" font-style="italic" fill="#444" textLength="8.40" lengthAdjust="spacingAndGlyphs">fl/fl</text>
<line x1="468.56" y1="373.60" x2="471.76" y2="373.60" stroke="#222" stroke-width="0.8"/>
<line x1="470.16" y1="372.00" x2="470.16" y2="375.20" stroke="#222" stroke-width="0.8"/>
<text x="482.34" y="364.50" font-size="4.8" stroke="#444" stroke-width="0.1" text-anchor="middle" font-style="italic" fill="#444" textLength="8.40" lengthAdjust="spacingAndGlyphs">fl/fl</text>
<line x1="481.44" y1="373.60" x2="483.24" y2="373.60" stroke="#222" stroke-width="0.8"/>
<text x="494.52" y="364.50" font-size="4.8" stroke="#444" stroke-width="0.1" text-anchor="middle" font-style="italic" fill="#444" textLength="10.60" lengthAdjust="spacingAndGlyphs">fl/wt</text>
<line x1="492.92" y1="373.60" x2="496.12" y2="373.60" stroke="#222" stroke-width="0.8"/>
<line x1="494.52" y1="372.00" x2="494.52" y2="375.20" stroke="#222" stroke-width="0.8"/>
<text x="506.70" y="364.50" font-size="4.8" stroke="#444" stroke-width="0.1" text-anchor="middle" font-style="italic" fill="#444" textLength="8.40" lengthAdjust="spacingAndGlyphs">fl/fl</text>
<line x1="505.10" y1="373.60" x2="508.30" y2="373.60" stroke="#222" stroke-width="0.8"/>
<line x1="506.70" y1="372.00" x2="506.70" y2="375.20" stroke="#222" stroke-width="0.8"/>
<line x1="319.60" y1="380.50" x2="339.38" y2="380.50" stroke="#1a1a1a" stroke-width="1.1"/>
<text x="329.79" y="389.40" font-size="6.6" stroke="#111" stroke-width="0.3" text-anchor="middle" font-weight="bold" textLength="18.30" lengthAdjust="spacingAndGlyphs">5 wks</text>
<line x1="343.96" y1="380.50" x2="375.92" y2="380.50" stroke="#1a1a1a" stroke-width="1.1"/>
<text x="360.54" y="389.40" font-size="6.6" stroke="#111" stroke-width="0.3" text-anchor="middle" font-weight="bold" textLength="18.60" lengthAdjust="spacingAndGlyphs">8 wks</text>
<line x1="380.50" y1="380.50" x2="412.46" y2="380.50" stroke="#1a1a1a" stroke-width="1.1"/>
<text x="397.08" y="389.40" font-size="6.6" stroke="#111" stroke-width="0.3" text-anchor="middle" font-weight="bold" textLength="21.90" lengthAdjust="spacingAndGlyphs">15 wks</text>
<line x1="417.04" y1="380.50" x2="436.82" y2="380.50" stroke="#1a1a1a" stroke-width="1.1"/>
<text x="427.23" y="389.40" font-size="6.6" stroke="#111" stroke-width="0.3" text-anchor="middle" font-weight="bold" textLength="18.30" lengthAdjust="spacingAndGlyphs">5 wks</text>
<line x1="441.40" y1="380.50" x2="473.36" y2="380.50" stroke="#1a1a1a" stroke-width="1.1"/>
<text x="457.98" y="389.40" font-size="6.6" stroke="#111" stroke-width="0.3" text-anchor="middle" font-weight="bold" textLength="18.60" lengthAdjust="spacingAndGlyphs">8 wks</text>
<line x1="477.94" y1="380.50" x2="509.90" y2="380.50" stroke="#1a1a1a" stroke-width="1.1"/>
<text x="494.52" y="389.40" font-size="6.6" stroke="#111" stroke-width="0.3" text-anchor="middle" font-weight="bold" textLength="21.90" lengthAdjust="spacingAndGlyphs">15 wks</text>
<line x1="321.50" y1="394.30" x2="411.86" y2="394.30" stroke="#1a1a1a" stroke-width="1.1"/>
<line x1="418.04" y1="394.30" x2="509.30" y2="394.30" stroke="#1a1a1a" stroke-width="1.1"/>
<text x="366.63" y="403.10" font-size="6.5" stroke="#111" stroke-width="0.3" text-anchor="middle" font-weight="bold" textLength="15.40" lengthAdjust="spacingAndGlyphs">Male</text>
<text x="464.07" y="403.10" font-size="6.5" stroke="#111" stroke-width="0.3" text-anchor="middle" font-weight="bold" textLength="22.80" lengthAdjust="spacingAndGlyphs">Female</text>
<line x1="324.00" y1="329.40" x2="324.00" y2="334.40" stroke="#111" stroke-width="1.2"/>
<line x1="321.70" y1="329.40" x2="326.30" y2="329.40" stroke="#111" stroke-width="1.2"/>
<line x1="321.70" y1="334.40" x2="326.30" y2="334.40" stroke="#111" stroke-width="1.2"/>
<line x1="319.75" y1="331.70" x2="328.25" y2="331.70" stroke="#111" stroke-width="1.4"/>
<path d="M319.65 329.23L321.10 326.77L322.55 329.23Z" fill="#bd0f2c"/>
<path d="M322.55 330.73L324.00 328.27L325.45 330.73Z" fill="#bd0f2c"/>
<path d="M319.65 333.73L321.10 331.27L322.55 333.73Z" fill="#bd0f2c"/>
<path d="M325.45 333.23L326.90 330.77L328.35 333.23Z" fill="#bd0f2c"/>
<path d="M322.55 336.23L324.00 333.77L325.45 336.23Z" fill="#bd0f2c"/>
<path d="M325.45 335.73L326.90 333.27L328.35 335.73Z" fill="#bd0f2c"/>
<line x1="336.18" y1="333.50" x2="336.18" y2="336.90" stroke="#111" stroke-width="1.2"/>
<line x1="333.88" y1="333.50" x2="338.48" y2="333.50" stroke="#111" stroke-width="1.2"/>
<line x1="333.88" y1="336.90" x2="338.48" y2="336.90" stroke="#111" stroke-width="1.2"/>
<line x1="331.93" y1="335.20" x2="340.43" y2="335.20" stroke="#111" stroke-width="1.4"/>
<path d="M331.83 335.23L333.28 332.77L334.73 335.23Z" fill="#bd0f2c"/>
<path d="M334.73 334.23L336.18 331.77L337.63 334.23Z" fill="#bd0f2c"/>
<path d="M337.63 335.23L339.08 332.77L340.53 335.23Z" fill="#bd0f2c"/>
<path d="M331.83 338.73L333.28 336.27L334.73 338.73Z" fill="#bd0f2c"/>
<path d="M334.73 339.73L336.18 337.27L337.63 339.73Z" fill="#bd0f2c"/>
<path d="M337.63 338.23L339.08 335.77L340.53 338.23Z" fill="#bd0f2c"/>
<path d="M334.73 340.73L336.18 338.27L337.63 340.73Z" fill="#bd0f2c"/>
<line x1="348.36" y1="328.80" x2="348.36" y2="334.60" stroke="#111" stroke-width="1.2"/>
<line x1="346.06" y1="328.80" x2="350.66" y2="328.80" stroke="#111" stroke-width="1.2"/>
<line x1="346.06" y1="334.60" x2="350.66" y2="334.60" stroke="#111" stroke-width="1.2"/>
<line x1="344.11" y1="331.70" x2="352.61" y2="331.70" stroke="#111" stroke-width="1.4"/>
<path d="M346.91 326.53L348.36 324.07L349.81 326.53Z" fill="#bd0f2c"/>
<path d="M344.01 328.73L345.46 326.27L346.91 328.73Z" fill="#bd0f2c"/>
<path d="M349.81 329.73L351.26 327.27L352.71 329.73Z" fill="#bd0f2c"/>
<path d="M344.01 332.23L345.46 329.77L346.91 332.23Z" fill="#bd0f2c"/>
<path d="M346.91 331.73L348.36 329.27L349.81 331.73Z" fill="#bd0f2c"/>
<path d="M349.81 333.23L351.26 330.77L352.71 333.23Z" fill="#bd0f2c"/>
<path d="M344.01 335.23L345.46 332.77L346.91 335.23Z" fill="#bd0f2c"/>
<path d="M346.91 334.73L348.36 332.27L349.81 334.73Z" fill="#bd0f2c"/>
<path d="M349.81 336.23L351.26 333.77L352.71 336.23Z" fill="#bd0f2c"/>
<path d="M346.91 338.23L348.36 335.77L349.81 338.23Z" fill="#bd0f2c"/>
<line x1="360.54" y1="328.80" x2="360.54" y2="333.20" stroke="#111" stroke-width="1.2"/>
<line x1="358.24" y1="328.80" x2="362.84" y2="328.80" stroke="#111" stroke-width="1.2"/>
<line x1="358.24" y1="333.20" x2="362.84" y2="333.20" stroke="#111" stroke-width="1.2"/>
<line x1="356.29" y1="330.90" x2="364.79" y2="330.90" stroke="#111" stroke-width="1.4"/>
<path d="M359.09 328.73L360.54 326.27L361.99 328.73Z" fill="#bd0f2c"/>
<path d="M356.19 332.23L357.64 329.77L359.09 332.23Z" fill="#bd0f2c"/>
<path d="M361.99 331.73L363.44 329.27L364.89 331.73Z" fill="#bd0f2c"/>
<path d="M359.09 334.73L360.54 332.27L361.99 334.73Z" fill="#bd0f2c"/>
<path d="M356.19 334.23L357.64 331.77L359.09 334.23Z" fill="#bd0f2c"/>
<line x1="372.72" y1="334.60" x2="372.72" y2="339.00" stroke="#111" stroke-width="1.2"/>
<line x1="370.42" y1="334.60" x2="375.02" y2="334.60" stroke="#111" stroke-width="1.2"/>
<line x1="370.42" y1="339.00" x2="375.02" y2="339.00" stroke="#111" stroke-width="1.2"/>
<line x1="368.47" y1="337.20" x2="376.97" y2="337.20" stroke="#111" stroke-width="1.4"/>
<path d="M368.37 333.73L369.82 331.27L371.27 333.73Z" fill="#bd0f2c"/>
<path d="M371.27 336.23L372.72 333.77L374.17 336.23Z" fill="#bd0f2c"/>
<path d="M374.17 337.23L375.62 334.77L377.07 337.23Z" fill="#bd0f2c"/>
<path d="M368.37 339.23L369.82 336.77L371.27 339.23Z" fill="#bd0f2c"/>
<path d="M371.27 340.23L372.72 337.77L374.17 340.23Z" fill="#bd0f2c"/>
<path d="M374.17 340.73L375.62 338.27L377.07 340.73Z" fill="#bd0f2c"/>
<line x1="384.90" y1="291.60" x2="384.90" y2="313.10" stroke="#111" stroke-width="1.2"/>
<line x1="382.60" y1="291.60" x2="387.20" y2="291.60" stroke="#111" stroke-width="1.2"/>
<line x1="382.60" y1="313.10" x2="387.20" y2="313.10" stroke="#111" stroke-width="1.2"/>
<line x1="380.65" y1="302.60" x2="389.15" y2="302.60" stroke="#111" stroke-width="1.4"/>
<path d="M383.45 290.73L384.90 288.27L386.35 290.73Z" fill="#bd0f2c"/>
<path d="M386.35 288.73L387.80 286.27L389.25 288.73Z" fill="#bd0f2c"/>
<path d="M380.55 308.73L382.00 306.27L383.45 308.73Z" fill="#bd0f2c"/>
<path d="M383.45 309.73L384.90 307.27L386.35 309.73Z" fill="#bd0f2c"/>
<path d="M383.45 312.73L384.90 310.27L386.35 312.73Z" fill="#bd0f2c"/>
<path d="M386.35 312.73L387.80 310.27L389.25 312.73Z" fill="#bd0f2c"/>
<line x1="397.08" y1="307.50" x2="397.08" y2="313.10" stroke="#111" stroke-width="1.2"/>
<line x1="394.78" y1="307.50" x2="399.38" y2="307.50" stroke="#111" stroke-width="1.2"/>
<line x1="394.78" y1="313.10" x2="399.38" y2="313.10" stroke="#111" stroke-width="1.2"/>
<line x1="392.83" y1="310.10" x2="401.33" y2="310.10" stroke="#111" stroke-width="1.4"/>
<path d="M395.63 307.23L397.08 304.77L398.53 307.23Z" fill="#bd0f2c"/>
<path d="M392.73 310.73L394.18 308.27L395.63 310.73Z" fill="#bd0f2c"/>
<path d="M395.63 313.23L397.08 310.77L398.53 313.23Z" fill="#bd0f2c"/>
<path d="M398.53 313.23L399.98 310.77L401.43 313.23Z" fill="#bd0f2c"/>
<line x1="409.26" y1="308.70" x2="409.26" y2="320.30" stroke="#111" stroke-width="1.2"/>
<line x1="406.96" y1="308.70" x2="411.56" y2="308.70" stroke="#111" stroke-width="1.2"/>
<line x1="406.96" y1="320.30" x2="411.56" y2="320.30" stroke="#111" stroke-width="1.2"/>
<line x1="405.01" y1="314.80" x2="413.51" y2="314.80" stroke="#111" stroke-width="1.4"/>
<path d="M407.81 309.23L409.26 306.77L410.71 309.23Z" fill="#bd0f2c"/>
<path d="M407.81 313.23L409.26 310.77L410.71 313.23Z" fill="#bd0f2c"/>
<path d="M410.71 320.73L412.16 318.27L413.61 320.73Z" fill="#bd0f2c"/>
<line x1="421.44" y1="325.40" x2="421.44" y2="336.30" stroke="#111" stroke-width="1.2"/>
<line x1="419.14" y1="325.40" x2="423.74" y2="325.40" stroke="#111" stroke-width="1.2"/>
<line x1="419.14" y1="336.30" x2="423.74" y2="336.30" stroke="#111" stroke-width="1.2"/>
<line x1="417.19" y1="331.30" x2="425.69" y2="331.30" stroke="#111" stroke-width="1.4"/>
<path d="M419.99 322.73L421.44 320.27L422.89 322.73Z" fill="#bd0f2c"/>
<path d="M417.09 333.23L418.54 330.77L419.99 333.23Z" fill="#bd0f2c"/>
<path d="M419.99 333.73L421.44 331.27L422.89 333.73Z" fill="#bd0f2c"/>
<path d="M422.89 333.73L424.34 331.27L425.79 333.73Z" fill="#bd0f2c"/>
<path d="M419.99 337.23L421.44 334.77L422.89 337.23Z" fill="#bd0f2c"/>
<line x1="433.62" y1="333.80" x2="433.62" y2="341.30" stroke="#111" stroke-width="1.2"/>
<line x1="431.32" y1="333.80" x2="435.92" y2="333.80" stroke="#111" stroke-width="1.2"/>
<line x1="431.32" y1="341.30" x2="435.92" y2="341.30" stroke="#111" stroke-width="1.2"/>
<line x1="429.37" y1="337.50" x2="437.87" y2="337.50" stroke="#111" stroke-width="1.4"/>
<path d="M432.17 332.23L433.62 329.77L435.07 332.23Z" fill="#bd0f2c"/>
<path d="M429.27 336.23L430.72 333.77L432.17 336.23Z" fill="#bd0f2c"/>
<path d="M435.07 336.23L436.52 333.77L437.97 336.23Z" fill="#bd0f2c"/>
<path d="M432.17 339.23L433.62 336.77L435.07 339.23Z" fill="#bd0f2c"/>
<path d="M429.27 341.73L430.72 339.27L432.17 341.73Z" fill="#bd0f2c"/>
<path d="M435.07 342.23L436.52 339.77L437.97 342.23Z" fill="#bd0f2c"/>
<path d="M432.17 344.23L433.62 341.77L435.07 344.23Z" fill="#bd0f2c"/>
<line x1="445.80" y1="321.30" x2="445.80" y2="329.00" stroke="#111" stroke-width="1.2"/>
<line x1="443.50" y1="321.30" x2="448.10" y2="321.30" stroke="#111" stroke-width="1.2"/>
<line x1="443.50" y1="329.00" x2="448.10" y2="329.00" stroke="#111" stroke-width="1.2"/>
<line x1="441.55" y1="325.00" x2="450.05" y2="325.00" stroke="#111" stroke-width="1.4"/>
<path d="M444.35 322.23L445.80 319.77L447.25 322.23Z" fill="#bd0f2c"/>
<path d="M441.45 326.73L442.90 324.27L444.35 326.73Z" fill="#bd0f2c"/>
<path d="M444.35 326.23L445.80 323.77L447.25 326.23Z" fill="#bd0f2c"/>
<path d="M447.25 326.73L448.70 324.27L450.15 326.73Z" fill="#bd0f2c"/>
<path d="M444.35 332.23L445.80 329.77L447.25 332.23Z" fill="#bd0f2c"/>
<line x1="457.98" y1="320.00" x2="457.98" y2="330.00" stroke="#111" stroke-width="1.2"/>
<line x1="455.68" y1="320.00" x2="460.28" y2="320.00" stroke="#111" stroke-width="1.2"/>
<line x1="455.68" y1="330.00" x2="460.28" y2="330.00" stroke="#111" stroke-width="1.2"/>
<line x1="453.73" y1="325.00" x2="462.23" y2="325.00" stroke="#111" stroke-width="1.4"/>
<path d="M456.53 318.23L457.98 315.77L459.43 318.23Z" fill="#bd0f2c"/>
<path d="M453.63 325.23L455.08 322.77L456.53 325.23Z" fill="#bd0f2c"/>
<path d="M456.53 325.73L457.98 323.27L459.43 325.73Z" fill="#bd0f2c"/>
<path d="M459.43 325.23L460.88 322.77L462.33 325.23Z" fill="#bd0f2c"/>
<path d="M459.43 329.73L460.88 327.27L462.33 329.73Z" fill="#bd0f2c"/>
<path d="M456.53 332.73L457.98 330.27L459.43 332.73Z" fill="#bd0f2c"/>
<line x1="470.16" y1="330.00" x2="470.16" y2="337.50" stroke="#111" stroke-width="1.2"/>
<line x1="467.86" y1="330.00" x2="472.46" y2="330.00" stroke="#111" stroke-width="1.2"/>
<line x1="467.86" y1="337.50" x2="472.46" y2="337.50" stroke="#111" stroke-width="1.2"/>
<line x1="465.91" y1="333.80" x2="474.41" y2="333.80" stroke="#111" stroke-width="1.4"/>
<path d="M465.81 331.23L467.26 328.77L468.71 331.23Z" fill="#bd0f2c"/>
<path d="M471.61 331.23L473.06 328.77L474.51 331.23Z" fill="#bd0f2c"/>
<path d="M468.71 334.73L470.16 332.27L471.61 334.73Z" fill="#bd0f2c"/>
<path d="M465.81 338.73L467.26 336.27L468.71 338.73Z" fill="#bd0f2c"/>
<path d="M471.61 338.73L473.06 336.27L474.51 338.73Z" fill="#bd0f2c"/>
<path d="M468.71 341.23L470.16 338.77L471.61 341.23Z" fill="#bd0f2c"/>
<line x1="482.34" y1="257.70" x2="482.34" y2="285.50" stroke="#111" stroke-width="1.2"/>
<line x1="480.04" y1="257.70" x2="484.64" y2="257.70" stroke="#111" stroke-width="1.2"/>
<line x1="480.04" y1="285.50" x2="484.64" y2="285.50" stroke="#111" stroke-width="1.2"/>
<line x1="478.09" y1="271.50" x2="486.59" y2="271.50" stroke="#111" stroke-width="1.4"/>
<path d="M480.89 261.73L482.34 259.27L483.79 261.73Z" fill="#bd0f2c"/>
<path d="M483.79 259.73L485.24 257.27L486.69 259.73Z" fill="#bd0f2c"/>
<path d="M480.89 284.23L482.34 281.77L483.79 284.23Z" fill="#bd0f2c"/>
<line x1="494.52" y1="256.70" x2="494.52" y2="271.70" stroke="#111" stroke-width="1.2"/>
<line x1="492.22" y1="256.70" x2="496.82" y2="256.70" stroke="#111" stroke-width="1.2"/>
<line x1="492.22" y1="271.70" x2="496.82" y2="271.70" stroke="#111" stroke-width="1.2"/>
<line x1="490.27" y1="263.90" x2="498.77" y2="263.90" stroke="#111" stroke-width="1.4"/>
<path d="M493.07 258.23L494.52 255.77L495.97 258.23Z" fill="#bd0f2c"/>
<path d="M493.07 265.23L494.52 262.77L495.97 265.23Z" fill="#bd0f2c"/>
<path d="M493.07 272.73L494.52 270.27L495.97 272.73Z" fill="#bd0f2c"/>
<line x1="506.70" y1="293.40" x2="506.70" y2="312.00" stroke="#111" stroke-width="1.2"/>
<line x1="504.40" y1="293.40" x2="509.00" y2="293.40" stroke="#111" stroke-width="1.2"/>
<line x1="504.40" y1="312.00" x2="509.00" y2="312.00" stroke="#111" stroke-width="1.2"/>
<line x1="502.45" y1="302.00" x2="510.95" y2="302.00" stroke="#111" stroke-width="1.4"/>
<path d="M505.25 288.73L506.70 286.27L508.15 288.73Z" fill="#bd0f2c"/>
<path d="M502.35 306.73L503.80 304.27L505.25 306.73Z" fill="#bd0f2c"/>
<path d="M505.25 307.73L506.70 305.27L508.15 307.73Z" fill="#bd0f2c"/>
<path d="M508.15 308.73L509.60 306.27L511.05 308.73Z" fill="#bd0f2c"/>
<path d="M505.25 312.73L506.70 310.27L508.15 312.73Z" fill="#bd0f2c"/>
<path d="M324.30 323.70V318.80H336.80V323.70" fill="none" stroke="#111" stroke-width="1.3"/>
<circle cx="330.55" cy="316.20" r="0.85" fill="#111"/>
<path d="M348.60 317.50V308.30H373.60V317.50" fill="none" stroke="#111" stroke-width="1.3"/>
<circle cx="359.88" cy="305.50" r="0.85" fill="#111"/>
<circle cx="362.33" cy="305.50" r="0.85" fill="#111"/>
<path d="M384.50 282.80V274.00H409.70V282.80" fill="none" stroke="#111" stroke-width="1.3"/>
<circle cx="397.10" cy="270.80" r="0.85" fill="#111"/>
<path d="M421.30 311.30V307.10H434.60V311.30" fill="none" stroke="#111" stroke-width="1.3"/>
<circle cx="427.95" cy="304.00" r="0.85" fill="#111"/>
<path d="M445.60 311.30V302.80H471.00V311.30" fill="none" stroke="#111" stroke-width="1.3"/>
<circle cx="457.07" cy="299.80" r="0.85" fill="#111"/>
<circle cx="459.53" cy="299.80" r="0.85" fill="#111"/>
<path d="M482.40 252.50V243.70H507.50V252.50" fill="none" stroke="#111" stroke-width="1.3"/>
<circle cx="493.72" cy="240.80" r="0.85" fill="#111"/>
<circle cx="496.18" cy="240.80" r="0.85" fill="#111"/>
<rect x="0.75" y="0.75" width="518.5" height="410.5" fill="none" stroke="#000" stroke-width="1.5"/>
</g></svg>
</body></html>
